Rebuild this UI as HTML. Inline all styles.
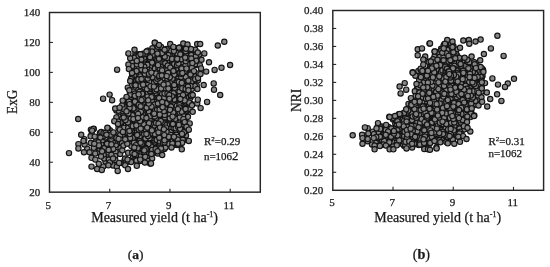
<!DOCTYPE html>
<html><head><meta charset="utf-8"><title>Figure</title>
<style>
html,body{margin:0;padding:0;background:#fff;}
svg{display:block;font-family:"Liberation Serif",serif;fill:#1a1a1a;}
text{stroke:#1a1a1a;stroke-width:0.25px;}
.tk{font-size:11px;}
.ax{font-size:14px;}
.pts circle{fill:#868686;stroke:#141414;stroke-width:1.15;}
</style></head><body>
<svg width="550" height="267" viewBox="0 0 550 267">
<rect width="550" height="267" fill="#fff"/>
<rect x="49.5" y="12.5" width="210.8" height="179.65" fill="none" stroke="#262626" stroke-width="1.45"/><line x1="49.5" x2="52.9" y1="42.44" y2="42.44" stroke="#262626" stroke-width="1.1"/><line x1="49.5" x2="52.9" y1="72.38" y2="72.38" stroke="#262626" stroke-width="1.1"/><line x1="49.5" x2="52.9" y1="102.33" y2="102.33" stroke="#262626" stroke-width="1.1"/><line x1="49.5" x2="52.9" y1="132.27" y2="132.27" stroke="#262626" stroke-width="1.1"/><line x1="49.5" x2="52.9" y1="162.21" y2="162.21" stroke="#262626" stroke-width="1.1"/><line x1="109.73" x2="109.73" y1="192.15" y2="188.75" stroke="#262626" stroke-width="1.1"/><line x1="169.96" x2="169.96" y1="192.15" y2="188.75" stroke="#262626" stroke-width="1.1"/><line x1="230.19" x2="230.19" y1="192.15" y2="188.75" stroke="#262626" stroke-width="1.1"/><text x="40.3" y="15.8" text-anchor="end" class="tk">140</text><text x="40.3" y="45.7" text-anchor="end" class="tk">120</text><text x="40.3" y="75.7" text-anchor="end" class="tk">100</text><text x="40.3" y="105.6" text-anchor="end" class="tk">80</text><text x="40.3" y="135.6" text-anchor="end" class="tk">60</text><text x="40.3" y="165.5" text-anchor="end" class="tk">40</text><text x="40.3" y="195.5" text-anchor="end" class="tk">20</text><text x="48.2" y="208.5" text-anchor="middle" class="tk">5</text><text x="108.4" y="208.5" text-anchor="middle" class="tk">7</text><text x="168.7" y="208.5" text-anchor="middle" class="tk">9</text><text x="228.9" y="208.5" text-anchor="middle" class="tk">11</text>
<g class="pts"><circle cx="165.5" cy="80.5" r="2.65"/><circle cx="142.2" cy="154.4" r="2.65"/><circle cx="170.7" cy="58.3" r="2.65"/><circle cx="172.5" cy="58.0" r="2.65"/><circle cx="190.3" cy="82.4" r="2.65"/><circle cx="143.4" cy="101.2" r="2.65"/><circle cx="166.8" cy="66.4" r="2.65"/><circle cx="141.6" cy="89.2" r="2.65"/><circle cx="164.6" cy="82.8" r="2.65"/><circle cx="175.0" cy="118.2" r="2.65"/><circle cx="152.1" cy="82.1" r="2.65"/><circle cx="137.4" cy="80.6" r="2.65"/><circle cx="195.7" cy="64.9" r="2.65"/><circle cx="142.4" cy="71.2" r="2.65"/><circle cx="175.6" cy="56.0" r="2.65"/><circle cx="146.9" cy="124.5" r="2.65"/><circle cx="173.1" cy="133.3" r="2.65"/><circle cx="172.6" cy="54.3" r="2.65"/><circle cx="147.7" cy="143.4" r="2.65"/><circle cx="170.0" cy="130.2" r="2.65"/><circle cx="182.8" cy="127.0" r="2.65"/><circle cx="186.0" cy="118.6" r="2.65"/><circle cx="166.6" cy="127.5" r="2.65"/><circle cx="167.9" cy="134.6" r="2.65"/><circle cx="168.7" cy="112.1" r="2.65"/><circle cx="172.0" cy="53.8" r="2.65"/><circle cx="174.3" cy="73.6" r="2.65"/><circle cx="162.2" cy="90.3" r="2.65"/><circle cx="154.1" cy="95.1" r="2.65"/><circle cx="169.5" cy="135.8" r="2.65"/><circle cx="186.0" cy="135.5" r="2.65"/><circle cx="154.9" cy="53.1" r="2.65"/><circle cx="159.4" cy="133.6" r="2.65"/><circle cx="133.5" cy="106.8" r="2.65"/><circle cx="189.3" cy="65.9" r="2.65"/><circle cx="134.3" cy="117.6" r="2.65"/><circle cx="183.6" cy="54.2" r="2.65"/><circle cx="135.9" cy="101.1" r="2.65"/><circle cx="127.4" cy="109.7" r="2.65"/><circle cx="170.9" cy="76.1" r="2.65"/><circle cx="182.7" cy="74.6" r="2.65"/><circle cx="145.3" cy="141.0" r="2.65"/><circle cx="121.2" cy="162.9" r="2.65"/><circle cx="181.6" cy="131.2" r="2.65"/><circle cx="159.8" cy="117.4" r="2.65"/><circle cx="99.9" cy="132.9" r="2.65"/><circle cx="139.9" cy="154.4" r="2.65"/><circle cx="173.6" cy="134.2" r="2.65"/><circle cx="155.6" cy="65.8" r="2.65"/><circle cx="161.0" cy="141.8" r="2.65"/><circle cx="125.7" cy="118.3" r="2.65"/><circle cx="161.7" cy="61.9" r="2.65"/><circle cx="149.0" cy="129.5" r="2.65"/><circle cx="146.6" cy="151.0" r="2.65"/><circle cx="136.8" cy="138.1" r="2.65"/><circle cx="146.1" cy="111.8" r="2.65"/><circle cx="100.9" cy="154.3" r="2.65"/><circle cx="181.0" cy="128.4" r="2.65"/><circle cx="169.8" cy="95.0" r="2.65"/><circle cx="186.5" cy="94.7" r="2.65"/><circle cx="179.2" cy="128.3" r="2.65"/><circle cx="124.6" cy="132.1" r="2.65"/><circle cx="151.5" cy="101.5" r="2.65"/><circle cx="159.4" cy="90.9" r="2.65"/><circle cx="135.2" cy="150.8" r="2.65"/><circle cx="129.8" cy="109.7" r="2.65"/><circle cx="143.2" cy="95.1" r="2.65"/><circle cx="166.1" cy="101.1" r="2.65"/><circle cx="182.2" cy="104.3" r="2.65"/><circle cx="155.5" cy="93.1" r="2.65"/><circle cx="188.6" cy="74.6" r="2.65"/><circle cx="143.4" cy="114.6" r="2.65"/><circle cx="189.1" cy="73.1" r="2.65"/><circle cx="165.2" cy="68.9" r="2.65"/><circle cx="176.7" cy="114.1" r="2.65"/><circle cx="183.7" cy="83.6" r="2.65"/><circle cx="173.1" cy="91.8" r="2.65"/><circle cx="103.9" cy="151.6" r="2.65"/><circle cx="134.5" cy="115.1" r="2.65"/><circle cx="194.6" cy="58.0" r="2.65"/><circle cx="188.5" cy="109.1" r="2.65"/><circle cx="167.9" cy="74.1" r="2.65"/><circle cx="144.7" cy="102.5" r="2.65"/><circle cx="130.1" cy="114.4" r="2.65"/><circle cx="155.1" cy="130.8" r="2.65"/><circle cx="145.2" cy="130.8" r="2.65"/><circle cx="187.9" cy="55.1" r="2.65"/><circle cx="147.6" cy="74.0" r="2.65"/><circle cx="132.3" cy="59.8" r="2.65"/><circle cx="186.1" cy="130.3" r="2.65"/><circle cx="154.2" cy="138.8" r="2.65"/><circle cx="156.0" cy="55.7" r="2.65"/><circle cx="189.5" cy="80.4" r="2.65"/><circle cx="195.6" cy="64.2" r="2.65"/><circle cx="191.4" cy="69.7" r="2.65"/><circle cx="162.3" cy="123.0" r="2.65"/><circle cx="187.4" cy="89.0" r="2.65"/><circle cx="160.2" cy="91.9" r="2.65"/><circle cx="133.9" cy="58.6" r="2.65"/><circle cx="193.0" cy="80.4" r="2.65"/><circle cx="155.5" cy="93.3" r="2.65"/><circle cx="137.3" cy="122.9" r="2.65"/><circle cx="142.6" cy="88.8" r="2.65"/><circle cx="186.4" cy="59.7" r="2.65"/><circle cx="104.7" cy="140.4" r="2.65"/><circle cx="142.2" cy="82.3" r="2.65"/><circle cx="158.3" cy="79.9" r="2.65"/><circle cx="117.4" cy="142.6" r="2.65"/><circle cx="118.5" cy="116.7" r="2.65"/><circle cx="160.4" cy="124.7" r="2.65"/><circle cx="124.8" cy="105.5" r="2.65"/><circle cx="176.2" cy="74.0" r="2.65"/><circle cx="115.8" cy="145.2" r="2.65"/><circle cx="172.6" cy="64.2" r="2.65"/><circle cx="118.5" cy="128.1" r="2.65"/><circle cx="156.4" cy="106.9" r="2.65"/><circle cx="98.5" cy="151.8" r="2.65"/><circle cx="170.2" cy="85.3" r="2.65"/><circle cx="159.1" cy="116.6" r="2.65"/><circle cx="157.6" cy="87.1" r="2.65"/><circle cx="164.4" cy="98.6" r="2.65"/><circle cx="171.9" cy="84.7" r="2.65"/><circle cx="120.2" cy="130.0" r="2.65"/><circle cx="136.2" cy="136.6" r="2.65"/><circle cx="110.9" cy="151.2" r="2.65"/><circle cx="167.7" cy="112.5" r="2.65"/><circle cx="171.7" cy="54.3" r="2.65"/><circle cx="115.9" cy="140.5" r="2.65"/><circle cx="154.8" cy="130.3" r="2.65"/><circle cx="147.1" cy="93.1" r="2.65"/><circle cx="123.2" cy="102.4" r="2.65"/><circle cx="159.9" cy="143.3" r="2.65"/><circle cx="190.8" cy="49.5" r="2.65"/><circle cx="198.7" cy="73.4" r="2.65"/><circle cx="186.9" cy="67.0" r="2.65"/><circle cx="137.9" cy="109.5" r="2.65"/><circle cx="152.4" cy="108.9" r="2.65"/><circle cx="168.1" cy="138.7" r="2.65"/><circle cx="120.1" cy="154.0" r="2.65"/><circle cx="142.4" cy="123.4" r="2.65"/><circle cx="175.4" cy="109.7" r="2.65"/><circle cx="142.1" cy="131.2" r="2.65"/><circle cx="177.2" cy="103.1" r="2.65"/><circle cx="150.9" cy="92.3" r="2.65"/><circle cx="145.8" cy="102.0" r="2.65"/><circle cx="138.9" cy="116.3" r="2.65"/><circle cx="105.5" cy="161.6" r="2.65"/><circle cx="136.0" cy="101.3" r="2.65"/><circle cx="170.8" cy="85.0" r="2.65"/><circle cx="158.7" cy="100.6" r="2.65"/><circle cx="180.3" cy="144.7" r="2.65"/><circle cx="190.7" cy="71.0" r="2.65"/><circle cx="177.6" cy="86.9" r="2.65"/><circle cx="178.8" cy="74.8" r="2.65"/><circle cx="109.9" cy="141.4" r="2.65"/><circle cx="170.3" cy="133.0" r="2.65"/><circle cx="111.2" cy="153.9" r="2.65"/><circle cx="134.7" cy="127.8" r="2.65"/><circle cx="163.2" cy="58.5" r="2.65"/><circle cx="151.6" cy="67.9" r="2.65"/><circle cx="135.8" cy="108.6" r="2.65"/><circle cx="135.7" cy="80.9" r="2.65"/><circle cx="180.7" cy="67.0" r="2.65"/><circle cx="139.6" cy="139.9" r="2.65"/><circle cx="87.2" cy="148.9" r="2.65"/><circle cx="183.7" cy="103.2" r="2.65"/><circle cx="168.4" cy="64.7" r="2.65"/><circle cx="140.4" cy="126.2" r="2.65"/><circle cx="158.2" cy="127.1" r="2.65"/><circle cx="149.4" cy="142.3" r="2.65"/><circle cx="153.1" cy="129.6" r="2.65"/><circle cx="146.2" cy="92.7" r="2.65"/><circle cx="135.2" cy="119.7" r="2.65"/><circle cx="104.2" cy="158.4" r="2.65"/><circle cx="179.7" cy="92.9" r="2.65"/><circle cx="129.2" cy="143.1" r="2.65"/><circle cx="124.5" cy="110.5" r="2.65"/><circle cx="137.1" cy="74.6" r="2.65"/><circle cx="184.0" cy="114.6" r="2.65"/><circle cx="139.0" cy="70.5" r="2.65"/><circle cx="124.9" cy="133.4" r="2.65"/><circle cx="128.3" cy="102.4" r="2.65"/><circle cx="145.5" cy="149.0" r="2.65"/><circle cx="144.1" cy="59.3" r="2.65"/><circle cx="191.7" cy="88.0" r="2.65"/><circle cx="155.1" cy="69.2" r="2.65"/><circle cx="124.8" cy="121.2" r="2.65"/><circle cx="116.4" cy="110.4" r="2.65"/><circle cx="139.8" cy="140.7" r="2.65"/><circle cx="178.1" cy="78.7" r="2.65"/><circle cx="154.2" cy="142.8" r="2.65"/><circle cx="101.4" cy="144.2" r="2.65"/><circle cx="122.9" cy="135.1" r="2.65"/><circle cx="128.1" cy="123.0" r="2.65"/><circle cx="159.7" cy="64.9" r="2.65"/><circle cx="176.4" cy="132.9" r="2.65"/><circle cx="139.2" cy="94.3" r="2.65"/><circle cx="139.6" cy="134.2" r="2.65"/><circle cx="188.3" cy="97.3" r="2.65"/><circle cx="177.8" cy="131.4" r="2.65"/><circle cx="140.0" cy="136.0" r="2.65"/><circle cx="165.0" cy="120.9" r="2.65"/><circle cx="183.9" cy="140.1" r="2.65"/><circle cx="179.8" cy="145.1" r="2.65"/><circle cx="171.6" cy="129.9" r="2.65"/><circle cx="120.9" cy="124.2" r="2.65"/><circle cx="139.0" cy="146.3" r="2.65"/><circle cx="160.8" cy="66.3" r="2.65"/><circle cx="149.0" cy="120.7" r="2.65"/><circle cx="184.9" cy="50.2" r="2.65"/><circle cx="191.6" cy="60.7" r="2.65"/><circle cx="135.1" cy="110.1" r="2.65"/><circle cx="188.7" cy="63.6" r="2.65"/><circle cx="189.0" cy="109.1" r="2.65"/><circle cx="141.5" cy="61.0" r="2.65"/><circle cx="174.1" cy="97.0" r="2.65"/><circle cx="165.2" cy="106.4" r="2.65"/><circle cx="154.5" cy="144.5" r="2.65"/><circle cx="147.0" cy="120.4" r="2.65"/><circle cx="127.6" cy="134.6" r="2.65"/><circle cx="192.1" cy="88.8" r="2.65"/><circle cx="197.4" cy="57.1" r="2.65"/><circle cx="190.3" cy="97.9" r="2.65"/><circle cx="109.9" cy="130.2" r="2.65"/><circle cx="183.0" cy="77.8" r="2.65"/><circle cx="113.1" cy="165.4" r="2.65"/><circle cx="166.8" cy="119.0" r="2.65"/><circle cx="168.6" cy="51.8" r="2.65"/><circle cx="177.0" cy="145.1" r="2.65"/><circle cx="102.7" cy="140.1" r="2.65"/><circle cx="177.4" cy="58.9" r="2.65"/><circle cx="84.6" cy="144.5" r="2.65"/><circle cx="152.5" cy="83.8" r="2.65"/><circle cx="173.2" cy="69.5" r="2.65"/><circle cx="178.3" cy="69.7" r="2.65"/><circle cx="179.7" cy="136.2" r="2.65"/><circle cx="159.3" cy="115.5" r="2.65"/><circle cx="151.2" cy="60.0" r="2.65"/><circle cx="183.3" cy="79.2" r="2.65"/><circle cx="164.8" cy="86.6" r="2.65"/><circle cx="153.3" cy="120.4" r="2.65"/><circle cx="162.0" cy="109.3" r="2.65"/><circle cx="137.5" cy="92.2" r="2.65"/><circle cx="186.4" cy="112.8" r="2.65"/><circle cx="182.5" cy="61.8" r="2.65"/><circle cx="182.1" cy="105.7" r="2.65"/><circle cx="133.3" cy="151.5" r="2.65"/><circle cx="90.8" cy="143.0" r="2.65"/><circle cx="169.9" cy="56.1" r="2.65"/><circle cx="146.6" cy="106.2" r="2.65"/><circle cx="161.6" cy="60.6" r="2.65"/><circle cx="124.7" cy="107.4" r="2.65"/><circle cx="144.1" cy="66.2" r="2.65"/><circle cx="154.0" cy="123.7" r="2.65"/><circle cx="139.6" cy="143.1" r="2.65"/><circle cx="180.3" cy="98.8" r="2.65"/><circle cx="124.2" cy="115.5" r="2.65"/><circle cx="151.7" cy="130.0" r="2.65"/><circle cx="154.5" cy="71.5" r="2.65"/><circle cx="162.1" cy="94.1" r="2.65"/><circle cx="140.7" cy="125.4" r="2.65"/><circle cx="139.2" cy="74.5" r="2.65"/><circle cx="183.0" cy="63.3" r="2.65"/><circle cx="149.4" cy="105.7" r="2.65"/><circle cx="139.3" cy="125.9" r="2.65"/><circle cx="135.6" cy="89.6" r="2.65"/><circle cx="176.3" cy="60.6" r="2.65"/><circle cx="142.8" cy="93.0" r="2.65"/><circle cx="187.6" cy="81.5" r="2.65"/><circle cx="140.8" cy="148.8" r="2.65"/><circle cx="170.4" cy="126.7" r="2.65"/><circle cx="130.6" cy="123.8" r="2.65"/><circle cx="163.0" cy="70.4" r="2.65"/><circle cx="136.4" cy="133.1" r="2.65"/><circle cx="139.3" cy="59.6" r="2.65"/><circle cx="178.5" cy="73.3" r="2.65"/><circle cx="190.1" cy="50.3" r="2.65"/><circle cx="180.3" cy="84.9" r="2.65"/><circle cx="185.4" cy="115.7" r="2.65"/><circle cx="133.2" cy="156.9" r="2.65"/><circle cx="120.9" cy="108.5" r="2.65"/><circle cx="183.2" cy="67.0" r="2.65"/><circle cx="171.9" cy="49.7" r="2.65"/><circle cx="122.0" cy="143.1" r="2.65"/><circle cx="130.0" cy="94.8" r="2.65"/><circle cx="170.5" cy="51.1" r="2.65"/><circle cx="136.2" cy="71.2" r="2.65"/><circle cx="127.3" cy="128.2" r="2.65"/><circle cx="126.1" cy="131.4" r="2.65"/><circle cx="184.2" cy="74.3" r="2.65"/><circle cx="136.5" cy="62.4" r="2.65"/><circle cx="143.2" cy="142.1" r="2.65"/><circle cx="167.4" cy="103.6" r="2.65"/><circle cx="148.6" cy="51.1" r="2.65"/><circle cx="176.4" cy="52.6" r="2.65"/><circle cx="183.7" cy="89.3" r="2.65"/><circle cx="135.1" cy="98.3" r="2.65"/><circle cx="153.5" cy="104.5" r="2.65"/><circle cx="147.6" cy="84.1" r="2.65"/><circle cx="99.8" cy="137.1" r="2.65"/><circle cx="174.1" cy="138.1" r="2.65"/><circle cx="163.1" cy="100.6" r="2.65"/><circle cx="137.5" cy="97.9" r="2.65"/><circle cx="145.2" cy="85.7" r="2.65"/><circle cx="145.3" cy="97.8" r="2.65"/><circle cx="133.5" cy="97.5" r="2.65"/><circle cx="153.5" cy="72.1" r="2.65"/><circle cx="148.7" cy="62.0" r="2.65"/><circle cx="138.2" cy="69.7" r="2.65"/><circle cx="154.1" cy="113.2" r="2.65"/><circle cx="170.0" cy="124.1" r="2.65"/><circle cx="180.7" cy="101.9" r="2.65"/><circle cx="163.0" cy="104.5" r="2.65"/><circle cx="121.7" cy="119.1" r="2.65"/><circle cx="175.1" cy="80.8" r="2.65"/><circle cx="182.8" cy="134.0" r="2.65"/><circle cx="173.7" cy="128.2" r="2.65"/><circle cx="150.0" cy="90.8" r="2.65"/><circle cx="201.5" cy="59.7" r="2.65"/><circle cx="131.4" cy="121.8" r="2.65"/><circle cx="187.3" cy="107.4" r="2.65"/><circle cx="159.9" cy="78.5" r="2.65"/><circle cx="186.6" cy="78.1" r="2.65"/><circle cx="189.5" cy="86.6" r="2.65"/><circle cx="149.6" cy="126.4" r="2.65"/><circle cx="118.7" cy="134.1" r="2.65"/><circle cx="174.2" cy="64.1" r="2.65"/><circle cx="177.0" cy="65.2" r="2.65"/><circle cx="135.4" cy="141.9" r="2.65"/><circle cx="148.0" cy="140.2" r="2.65"/><circle cx="164.4" cy="108.3" r="2.65"/><circle cx="172.6" cy="122.0" r="2.65"/><circle cx="134.1" cy="140.7" r="2.65"/><circle cx="149.5" cy="51.8" r="2.65"/><circle cx="129.1" cy="119.5" r="2.65"/><circle cx="165.4" cy="119.4" r="2.65"/><circle cx="155.9" cy="118.3" r="2.65"/><circle cx="163.9" cy="78.2" r="2.65"/><circle cx="167.6" cy="66.3" r="2.65"/><circle cx="131.9" cy="85.2" r="2.65"/><circle cx="133.6" cy="61.8" r="2.65"/><circle cx="174.7" cy="80.8" r="2.65"/><circle cx="168.7" cy="113.9" r="2.65"/><circle cx="154.8" cy="68.5" r="2.65"/><circle cx="140.8" cy="103.7" r="2.65"/><circle cx="150.0" cy="66.7" r="2.65"/><circle cx="179.2" cy="118.4" r="2.65"/><circle cx="152.1" cy="89.0" r="2.65"/><circle cx="156.3" cy="152.1" r="2.65"/><circle cx="182.4" cy="121.7" r="2.65"/><circle cx="179.7" cy="73.2" r="2.65"/><circle cx="105.4" cy="137.4" r="2.65"/><circle cx="129.0" cy="97.6" r="2.65"/><circle cx="147.2" cy="156.3" r="2.65"/><circle cx="131.4" cy="104.5" r="2.65"/><circle cx="132.2" cy="135.9" r="2.65"/><circle cx="156.8" cy="104.0" r="2.65"/><circle cx="154.0" cy="59.7" r="2.65"/><circle cx="192.4" cy="95.2" r="2.65"/><circle cx="138.8" cy="114.2" r="2.65"/><circle cx="162.2" cy="62.1" r="2.65"/><circle cx="103.2" cy="136.2" r="2.65"/><circle cx="170.3" cy="110.7" r="2.65"/><circle cx="140.0" cy="160.9" r="2.65"/><circle cx="135.4" cy="54.1" r="2.65"/><circle cx="155.6" cy="62.8" r="2.65"/><circle cx="149.9" cy="70.8" r="2.65"/><circle cx="167.1" cy="124.9" r="2.65"/><circle cx="163.9" cy="84.8" r="2.65"/><circle cx="157.7" cy="97.8" r="2.65"/><circle cx="165.4" cy="86.4" r="2.65"/><circle cx="182.2" cy="113.0" r="2.65"/><circle cx="134.6" cy="84.5" r="2.65"/><circle cx="155.9" cy="74.8" r="2.65"/><circle cx="185.8" cy="92.8" r="2.65"/><circle cx="144.6" cy="153.3" r="2.65"/><circle cx="164.1" cy="130.9" r="2.65"/><circle cx="149.5" cy="70.2" r="2.65"/><circle cx="97.5" cy="138.7" r="2.65"/><circle cx="165.4" cy="60.8" r="2.65"/><circle cx="117.9" cy="123.1" r="2.65"/><circle cx="192.9" cy="77.9" r="2.65"/><circle cx="142.8" cy="108.5" r="2.65"/><circle cx="160.5" cy="139.4" r="2.65"/><circle cx="123.6" cy="114.5" r="2.65"/><circle cx="182.0" cy="55.7" r="2.65"/><circle cx="153.4" cy="135.8" r="2.65"/><circle cx="160.7" cy="86.3" r="2.65"/><circle cx="136.6" cy="152.8" r="2.65"/><circle cx="173.7" cy="102.8" r="2.65"/><circle cx="138.5" cy="89.7" r="2.65"/><circle cx="157.3" cy="59.8" r="2.65"/><circle cx="180.7" cy="53.2" r="2.65"/><circle cx="159.7" cy="56.1" r="2.65"/><circle cx="182.3" cy="106.3" r="2.65"/><circle cx="148.1" cy="83.9" r="2.65"/><circle cx="140.4" cy="76.4" r="2.65"/><circle cx="148.9" cy="153.0" r="2.65"/><circle cx="134.3" cy="70.7" r="2.65"/><circle cx="144.5" cy="61.9" r="2.65"/><circle cx="147.5" cy="96.6" r="2.65"/><circle cx="124.6" cy="160.2" r="2.65"/><circle cx="139.9" cy="156.5" r="2.65"/><circle cx="150.5" cy="144.7" r="2.65"/><circle cx="168.3" cy="55.0" r="2.65"/><circle cx="112.7" cy="142.0" r="2.65"/><circle cx="166.4" cy="118.1" r="2.65"/><circle cx="158.5" cy="62.5" r="2.65"/><circle cx="159.3" cy="128.1" r="2.65"/><circle cx="105.9" cy="147.0" r="2.65"/><circle cx="143.3" cy="89.8" r="2.65"/><circle cx="140.5" cy="117.5" r="2.65"/><circle cx="189.0" cy="56.5" r="2.65"/><circle cx="136.8" cy="111.8" r="2.65"/><circle cx="184.7" cy="117.0" r="2.65"/><circle cx="111.3" cy="138.9" r="2.65"/><circle cx="149.8" cy="129.3" r="2.65"/><circle cx="128.1" cy="152.8" r="2.65"/><circle cx="144.2" cy="134.2" r="2.65"/><circle cx="181.5" cy="59.2" r="2.65"/><circle cx="173.0" cy="124.1" r="2.65"/><circle cx="189.7" cy="83.1" r="2.65"/><circle cx="176.0" cy="83.1" r="2.65"/><circle cx="158.5" cy="68.4" r="2.65"/><circle cx="115.5" cy="151.7" r="2.65"/><circle cx="145.5" cy="139.3" r="2.65"/><circle cx="154.4" cy="110.5" r="2.65"/><circle cx="139.8" cy="98.8" r="2.65"/><circle cx="131.6" cy="100.2" r="2.65"/><circle cx="159.8" cy="68.9" r="2.65"/><circle cx="139.0" cy="54.2" r="2.65"/><circle cx="197.8" cy="55.7" r="2.65"/><circle cx="160.5" cy="83.9" r="2.65"/><circle cx="159.3" cy="114.6" r="2.65"/><circle cx="174.7" cy="124.8" r="2.65"/><circle cx="150.9" cy="80.9" r="2.65"/><circle cx="162.9" cy="56.8" r="2.65"/><circle cx="133.7" cy="101.1" r="2.65"/><circle cx="163.3" cy="134.3" r="2.65"/><circle cx="190.7" cy="96.0" r="2.65"/><circle cx="146.2" cy="55.5" r="2.65"/><circle cx="152.6" cy="57.5" r="2.65"/><circle cx="161.9" cy="130.9" r="2.65"/><circle cx="113.2" cy="148.9" r="2.65"/><circle cx="137.0" cy="129.8" r="2.65"/><circle cx="196.7" cy="85.6" r="2.65"/><circle cx="122.9" cy="111.2" r="2.65"/><circle cx="131.4" cy="146.1" r="2.65"/><circle cx="168.6" cy="83.8" r="2.65"/><circle cx="127.2" cy="132.4" r="2.65"/><circle cx="107.1" cy="143.8" r="2.65"/><circle cx="164.1" cy="97.8" r="2.65"/><circle cx="149.6" cy="111.8" r="2.65"/><circle cx="154.4" cy="146.5" r="2.65"/><circle cx="120.2" cy="135.1" r="2.65"/><circle cx="152.1" cy="158.4" r="2.65"/><circle cx="188.6" cy="48.4" r="2.65"/><circle cx="166.3" cy="141.1" r="2.65"/><circle cx="133.1" cy="91.6" r="2.65"/><circle cx="169.5" cy="117.7" r="2.65"/><circle cx="150.7" cy="107.1" r="2.65"/><circle cx="142.8" cy="88.4" r="2.65"/><circle cx="194.9" cy="54.0" r="2.65"/><circle cx="172.7" cy="78.8" r="2.65"/><circle cx="157.5" cy="82.2" r="2.65"/><circle cx="121.9" cy="128.1" r="2.65"/><circle cx="128.8" cy="123.1" r="2.65"/><circle cx="148.0" cy="50.7" r="2.65"/><circle cx="111.8" cy="136.3" r="2.65"/><circle cx="134.0" cy="142.7" r="2.65"/><circle cx="172.4" cy="78.8" r="2.65"/><circle cx="180.1" cy="119.6" r="2.65"/><circle cx="151.1" cy="106.6" r="2.65"/><circle cx="142.7" cy="149.2" r="2.65"/><circle cx="152.3" cy="78.9" r="2.65"/><circle cx="179.2" cy="94.9" r="2.65"/><circle cx="150.4" cy="53.3" r="2.65"/><circle cx="158.0" cy="111.7" r="2.65"/><circle cx="139.7" cy="85.5" r="2.65"/><circle cx="187.9" cy="116.8" r="2.65"/><circle cx="153.6" cy="83.0" r="2.65"/><circle cx="100.4" cy="137.6" r="2.65"/><circle cx="135.0" cy="155.7" r="2.65"/><circle cx="169.1" cy="108.7" r="2.65"/><circle cx="108.9" cy="159.3" r="2.65"/><circle cx="154.4" cy="125.4" r="2.65"/><circle cx="149.5" cy="138.2" r="2.65"/><circle cx="126.3" cy="117.5" r="2.65"/><circle cx="145.7" cy="64.3" r="2.65"/><circle cx="115.2" cy="156.1" r="2.65"/><circle cx="174.6" cy="144.7" r="2.65"/><circle cx="178.2" cy="52.2" r="2.65"/><circle cx="155.2" cy="147.9" r="2.65"/><circle cx="151.1" cy="146.5" r="2.65"/><circle cx="140.9" cy="83.9" r="2.65"/><circle cx="158.0" cy="129.3" r="2.65"/><circle cx="182.6" cy="71.6" r="2.65"/><circle cx="164.8" cy="117.5" r="2.65"/><circle cx="144.1" cy="148.7" r="2.65"/><circle cx="180.7" cy="88.1" r="2.65"/><circle cx="120.5" cy="122.5" r="2.65"/><circle cx="164.7" cy="73.1" r="2.65"/><circle cx="194.9" cy="86.2" r="2.65"/><circle cx="137.9" cy="79.2" r="2.65"/><circle cx="151.2" cy="153.0" r="2.65"/><circle cx="152.6" cy="77.2" r="2.65"/><circle cx="116.5" cy="138.1" r="2.65"/><circle cx="160.3" cy="106.4" r="2.65"/><circle cx="116.4" cy="117.4" r="2.65"/><circle cx="174.6" cy="90.0" r="2.65"/><circle cx="175.8" cy="130.1" r="2.65"/><circle cx="156.8" cy="139.9" r="2.65"/><circle cx="158.4" cy="151.4" r="2.65"/><circle cx="185.4" cy="65.7" r="2.65"/><circle cx="133.4" cy="108.4" r="2.65"/><circle cx="171.5" cy="71.5" r="2.65"/><circle cx="160.0" cy="141.5" r="2.65"/><circle cx="146.4" cy="148.9" r="2.65"/><circle cx="132.0" cy="102.5" r="2.65"/><circle cx="131.3" cy="80.4" r="2.65"/><circle cx="155.9" cy="49.7" r="2.65"/><circle cx="192.4" cy="61.8" r="2.65"/><circle cx="132.8" cy="72.7" r="2.65"/><circle cx="149.1" cy="81.5" r="2.65"/><circle cx="167.4" cy="78.6" r="2.65"/><circle cx="147.1" cy="67.6" r="2.65"/><circle cx="176.9" cy="89.4" r="2.65"/><circle cx="198.0" cy="80.3" r="2.65"/><circle cx="141.3" cy="144.8" r="2.65"/><circle cx="132.3" cy="152.8" r="2.65"/><circle cx="128.1" cy="118.1" r="2.65"/><circle cx="181.1" cy="77.0" r="2.65"/><circle cx="191.4" cy="81.7" r="2.65"/><circle cx="185.2" cy="70.8" r="2.65"/><circle cx="145.5" cy="138.4" r="2.65"/><circle cx="175.1" cy="99.8" r="2.65"/><circle cx="152.6" cy="153.0" r="2.65"/><circle cx="147.4" cy="64.8" r="2.65"/><circle cx="153.4" cy="117.1" r="2.65"/><circle cx="170.0" cy="114.3" r="2.65"/><circle cx="151.0" cy="60.3" r="2.65"/><circle cx="191.8" cy="67.9" r="2.65"/><circle cx="125.1" cy="158.5" r="2.65"/><circle cx="155.2" cy="90.8" r="2.65"/><circle cx="170.6" cy="83.4" r="2.65"/><circle cx="186.2" cy="89.6" r="2.65"/><circle cx="173.5" cy="108.3" r="2.65"/><circle cx="120.5" cy="148.0" r="2.65"/><circle cx="156.3" cy="80.9" r="2.65"/><circle cx="143.2" cy="126.9" r="2.65"/><circle cx="156.5" cy="72.6" r="2.65"/><circle cx="139.4" cy="91.9" r="2.65"/><circle cx="124.0" cy="127.9" r="2.65"/><circle cx="151.9" cy="100.4" r="2.65"/><circle cx="175.2" cy="107.6" r="2.65"/><circle cx="139.0" cy="67.5" r="2.65"/><circle cx="159.0" cy="58.8" r="2.65"/><circle cx="185.2" cy="106.7" r="2.65"/><circle cx="144.3" cy="66.8" r="2.65"/><circle cx="177.1" cy="116.0" r="2.65"/><circle cx="149.7" cy="119.6" r="2.65"/><circle cx="178.4" cy="63.6" r="2.65"/><circle cx="145.6" cy="78.9" r="2.65"/><circle cx="169.5" cy="96.4" r="2.65"/><circle cx="183.1" cy="115.9" r="2.65"/><circle cx="176.2" cy="137.2" r="2.65"/><circle cx="176.7" cy="105.9" r="2.65"/><circle cx="139.0" cy="82.8" r="2.65"/><circle cx="178.6" cy="114.0" r="2.65"/><circle cx="144.9" cy="77.3" r="2.65"/><circle cx="168.4" cy="61.8" r="2.65"/><circle cx="156.0" cy="123.1" r="2.65"/><circle cx="130.4" cy="94.6" r="2.65"/><circle cx="96.0" cy="141.2" r="2.65"/><circle cx="180.6" cy="121.7" r="2.65"/><circle cx="165.8" cy="88.5" r="2.65"/><circle cx="141.4" cy="69.4" r="2.65"/><circle cx="139.4" cy="146.6" r="2.65"/><circle cx="167.2" cy="70.0" r="2.65"/><circle cx="175.7" cy="128.3" r="2.65"/><circle cx="169.2" cy="90.2" r="2.65"/><circle cx="122.3" cy="150.3" r="2.65"/><circle cx="129.6" cy="107.9" r="2.65"/><circle cx="179.4" cy="105.2" r="2.65"/><circle cx="164.4" cy="148.9" r="2.65"/><circle cx="159.8" cy="104.4" r="2.65"/><circle cx="141.6" cy="103.9" r="2.65"/><circle cx="147.7" cy="112.9" r="2.65"/><circle cx="165.9" cy="109.5" r="2.65"/><circle cx="165.0" cy="124.9" r="2.65"/><circle cx="165.4" cy="147.5" r="2.65"/><circle cx="91.7" cy="133.9" r="2.65"/><circle cx="161.3" cy="49.8" r="2.65"/><circle cx="160.3" cy="81.6" r="2.65"/><circle cx="101.3" cy="132.0" r="2.65"/><circle cx="174.4" cy="74.6" r="2.65"/><circle cx="191.3" cy="103.9" r="2.65"/><circle cx="140.8" cy="115.0" r="2.65"/><circle cx="135.0" cy="101.7" r="2.65"/><circle cx="178.2" cy="127.0" r="2.65"/><circle cx="103.8" cy="154.4" r="2.65"/><circle cx="163.9" cy="56.9" r="2.65"/><circle cx="134.7" cy="93.7" r="2.65"/><circle cx="159.9" cy="54.1" r="2.65"/><circle cx="154.1" cy="135.0" r="2.65"/><circle cx="139.1" cy="80.6" r="2.65"/><circle cx="143.7" cy="124.1" r="2.65"/><circle cx="136.1" cy="145.1" r="2.65"/><circle cx="152.7" cy="54.9" r="2.65"/><circle cx="181.6" cy="69.4" r="2.65"/><circle cx="169.6" cy="92.1" r="2.65"/><circle cx="104.0" cy="148.3" r="2.65"/><circle cx="157.5" cy="78.8" r="2.65"/><circle cx="103.5" cy="132.9" r="2.65"/><circle cx="180.1" cy="128.8" r="2.65"/><circle cx="194.1" cy="76.0" r="2.65"/><circle cx="138.8" cy="104.8" r="2.65"/><circle cx="169.8" cy="118.5" r="2.65"/><circle cx="161.1" cy="47.1" r="2.65"/><circle cx="173.4" cy="144.3" r="2.65"/><circle cx="132.5" cy="115.3" r="2.65"/><circle cx="157.1" cy="109.9" r="2.65"/><circle cx="159.4" cy="76.3" r="2.65"/><circle cx="128.1" cy="137.7" r="2.65"/><circle cx="123.5" cy="145.5" r="2.65"/><circle cx="182.7" cy="120.0" r="2.65"/><circle cx="118.6" cy="138.9" r="2.65"/><circle cx="118.2" cy="121.7" r="2.65"/><circle cx="116.8" cy="166.6" r="2.65"/><circle cx="191.1" cy="52.3" r="2.65"/><circle cx="103.2" cy="166.6" r="2.65"/><circle cx="153.4" cy="131.2" r="2.65"/><circle cx="176.4" cy="134.8" r="2.65"/><circle cx="171.5" cy="100.7" r="2.65"/><circle cx="185.7" cy="48.6" r="2.65"/><circle cx="168.7" cy="136.9" r="2.65"/><circle cx="175.4" cy="118.8" r="2.65"/><circle cx="185.8" cy="76.9" r="2.65"/><circle cx="147.7" cy="78.6" r="2.65"/><circle cx="191.2" cy="55.1" r="2.65"/><circle cx="140.5" cy="86.1" r="2.65"/><circle cx="144.8" cy="159.6" r="2.65"/><circle cx="130.1" cy="123.7" r="2.65"/><circle cx="185.5" cy="108.0" r="2.65"/><circle cx="141.0" cy="120.6" r="2.65"/><circle cx="166.3" cy="94.2" r="2.65"/><circle cx="130.9" cy="133.8" r="2.65"/><circle cx="136.8" cy="64.3" r="2.65"/><circle cx="119.8" cy="129.7" r="2.65"/><circle cx="122.0" cy="105.4" r="2.65"/><circle cx="108.6" cy="132.8" r="2.65"/><circle cx="110.8" cy="134.7" r="2.65"/><circle cx="139.5" cy="109.2" r="2.65"/><circle cx="177.4" cy="53.4" r="2.65"/><circle cx="149.9" cy="112.3" r="2.65"/><circle cx="163.7" cy="55.1" r="2.65"/><circle cx="122.9" cy="131.9" r="2.65"/><circle cx="167.5" cy="60.4" r="2.65"/><circle cx="142.2" cy="93.9" r="2.65"/><circle cx="130.9" cy="128.6" r="2.65"/><circle cx="150.2" cy="132.0" r="2.65"/><circle cx="181.2" cy="68.9" r="2.65"/><circle cx="128.3" cy="139.5" r="2.65"/><circle cx="142.9" cy="99.0" r="2.65"/><circle cx="134.9" cy="95.8" r="2.65"/><circle cx="186.8" cy="110.3" r="2.65"/><circle cx="145.7" cy="129.6" r="2.65"/><circle cx="138.6" cy="133.1" r="2.65"/><circle cx="159.3" cy="137.7" r="2.65"/><circle cx="99.6" cy="148.7" r="2.65"/><circle cx="115.3" cy="160.0" r="2.65"/><circle cx="93.8" cy="147.8" r="2.65"/><circle cx="147.5" cy="85.0" r="2.65"/><circle cx="183.9" cy="132.2" r="2.65"/><circle cx="128.2" cy="127.8" r="2.65"/><circle cx="150.0" cy="59.0" r="2.65"/><circle cx="191.7" cy="72.9" r="2.65"/><circle cx="152.2" cy="96.2" r="2.65"/><circle cx="124.3" cy="109.4" r="2.65"/><circle cx="186.1" cy="97.8" r="2.65"/><circle cx="138.4" cy="79.4" r="2.65"/><circle cx="159.1" cy="98.0" r="2.65"/><circle cx="159.3" cy="77.4" r="2.65"/><circle cx="162.4" cy="122.1" r="2.65"/><circle cx="132.3" cy="61.2" r="2.65"/><circle cx="137.8" cy="148.2" r="2.65"/><circle cx="167.0" cy="75.8" r="2.65"/><circle cx="173.6" cy="93.3" r="2.65"/><circle cx="172.9" cy="124.0" r="2.65"/><circle cx="182.7" cy="95.3" r="2.65"/><circle cx="154.8" cy="116.4" r="2.65"/><circle cx="148.4" cy="112.9" r="2.65"/><circle cx="160.8" cy="121.1" r="2.65"/><circle cx="165.9" cy="127.6" r="2.65"/><circle cx="144.1" cy="57.6" r="2.65"/><circle cx="134.3" cy="147.5" r="2.65"/><circle cx="164.6" cy="114.9" r="2.65"/><circle cx="154.7" cy="104.5" r="2.65"/><circle cx="132.9" cy="137.8" r="2.65"/><circle cx="148.5" cy="144.1" r="2.65"/><circle cx="181.6" cy="68.5" r="2.65"/><circle cx="164.6" cy="93.6" r="2.65"/><circle cx="148.7" cy="75.2" r="2.65"/><circle cx="179.5" cy="91.8" r="2.65"/><circle cx="171.0" cy="106.7" r="2.65"/><circle cx="174.2" cy="99.5" r="2.65"/><circle cx="194.6" cy="60.0" r="2.65"/><circle cx="190.0" cy="109.0" r="2.65"/><circle cx="178.8" cy="82.0" r="2.65"/><circle cx="166.5" cy="103.4" r="2.65"/><circle cx="166.5" cy="49.1" r="2.65"/><circle cx="155.7" cy="73.6" r="2.65"/><circle cx="162.7" cy="131.8" r="2.65"/><circle cx="108.6" cy="152.7" r="2.65"/><circle cx="167.8" cy="84.0" r="2.65"/><circle cx="134.3" cy="75.1" r="2.65"/><circle cx="143.1" cy="104.4" r="2.65"/><circle cx="165.3" cy="63.2" r="2.65"/><circle cx="182.3" cy="88.4" r="2.65"/><circle cx="175.2" cy="48.0" r="2.65"/><circle cx="150.6" cy="123.9" r="2.65"/><circle cx="147.5" cy="160.8" r="2.65"/><circle cx="134.6" cy="71.6" r="2.65"/><circle cx="170.0" cy="98.5" r="2.65"/><circle cx="181.6" cy="136.4" r="2.65"/><circle cx="128.9" cy="101.5" r="2.65"/><circle cx="189.1" cy="102.6" r="2.65"/><circle cx="95.2" cy="153.6" r="2.65"/><circle cx="186.1" cy="53.4" r="2.65"/><circle cx="108.6" cy="149.9" r="2.65"/><circle cx="141.5" cy="79.0" r="2.65"/><circle cx="127.8" cy="87.6" r="2.65"/><circle cx="144.8" cy="54.3" r="2.65"/><circle cx="184.1" cy="98.1" r="2.65"/><circle cx="130.2" cy="138.1" r="2.65"/><circle cx="182.8" cy="139.7" r="2.65"/><circle cx="162.1" cy="70.4" r="2.65"/><circle cx="141.5" cy="100.2" r="2.65"/><circle cx="142.1" cy="106.1" r="2.65"/><circle cx="186.5" cy="68.6" r="2.65"/><circle cx="131.2" cy="125.0" r="2.65"/><circle cx="171.1" cy="146.5" r="2.65"/><circle cx="190.5" cy="74.5" r="2.65"/><circle cx="152.4" cy="48.3" r="2.65"/><circle cx="185.8" cy="61.2" r="2.65"/><circle cx="178.1" cy="137.1" r="2.65"/><circle cx="98.3" cy="142.3" r="2.65"/><circle cx="167.7" cy="65.5" r="2.65"/><circle cx="195.3" cy="49.8" r="2.65"/><circle cx="152.2" cy="149.9" r="2.65"/><circle cx="150.1" cy="57.3" r="2.65"/><circle cx="156.5" cy="89.2" r="2.65"/><circle cx="158.5" cy="123.7" r="2.65"/><circle cx="136.0" cy="155.0" r="2.65"/><circle cx="127.7" cy="114.1" r="2.65"/><circle cx="188.4" cy="80.7" r="2.65"/><circle cx="185.6" cy="89.0" r="2.65"/><circle cx="158.0" cy="65.2" r="2.65"/><circle cx="194.0" cy="71.1" r="2.65"/><circle cx="168.9" cy="143.8" r="2.65"/><circle cx="145.5" cy="147.8" r="2.65"/><circle cx="179.9" cy="47.5" r="2.65"/><circle cx="152.4" cy="133.4" r="2.65"/><circle cx="119.1" cy="162.9" r="2.65"/><circle cx="157.8" cy="153.4" r="2.65"/><circle cx="182.2" cy="142.7" r="2.65"/><circle cx="190.5" cy="86.0" r="2.65"/><circle cx="108.9" cy="159.5" r="2.65"/><circle cx="154.9" cy="134.1" r="2.65"/><circle cx="174.8" cy="87.8" r="2.65"/><circle cx="199.3" cy="54.5" r="2.65"/><circle cx="128.4" cy="113.5" r="2.65"/><circle cx="149.1" cy="112.1" r="2.65"/><circle cx="163.8" cy="111.2" r="2.65"/><circle cx="173.9" cy="51.1" r="2.65"/><circle cx="172.0" cy="58.9" r="2.65"/><circle cx="159.3" cy="75.9" r="2.65"/><circle cx="169.9" cy="99.8" r="2.65"/><circle cx="151.5" cy="97.2" r="2.65"/><circle cx="146.7" cy="107.7" r="2.65"/><circle cx="172.4" cy="143.6" r="2.65"/><circle cx="180.3" cy="54.3" r="2.65"/><circle cx="199.9" cy="65.4" r="2.65"/><circle cx="162.9" cy="142.9" r="2.65"/><circle cx="137.0" cy="132.4" r="2.65"/><circle cx="192.0" cy="105.3" r="2.65"/><circle cx="144.6" cy="87.5" r="2.65"/><circle cx="167.1" cy="57.9" r="2.65"/><circle cx="131.4" cy="161.2" r="2.65"/><circle cx="188.3" cy="58.4" r="2.65"/><circle cx="138.6" cy="94.3" r="2.65"/><circle cx="162.6" cy="105.5" r="2.65"/><circle cx="181.8" cy="82.9" r="2.65"/><circle cx="164.7" cy="56.8" r="2.65"/><circle cx="155.6" cy="149.0" r="2.65"/><circle cx="169.8" cy="77.3" r="2.65"/><circle cx="130.8" cy="118.8" r="2.65"/><circle cx="179.8" cy="117.3" r="2.65"/><circle cx="161.1" cy="88.4" r="2.65"/><circle cx="179.9" cy="96.3" r="2.65"/><circle cx="177.7" cy="139.5" r="2.65"/><circle cx="138.8" cy="129.6" r="2.65"/><circle cx="170.3" cy="67.7" r="2.65"/><circle cx="195.7" cy="56.5" r="2.65"/><circle cx="196.2" cy="60.7" r="2.65"/><circle cx="149.0" cy="123.2" r="2.65"/><circle cx="142.7" cy="117.9" r="2.65"/><circle cx="132.8" cy="126.2" r="2.65"/><circle cx="159.6" cy="109.7" r="2.65"/><circle cx="147.9" cy="136.0" r="2.65"/><circle cx="167.5" cy="93.6" r="2.65"/><circle cx="166.6" cy="131.7" r="2.65"/><circle cx="152.0" cy="51.6" r="2.65"/><circle cx="99.1" cy="146.0" r="2.65"/><circle cx="159.7" cy="114.7" r="2.65"/><circle cx="149.0" cy="88.8" r="2.65"/><circle cx="111.4" cy="144.4" r="2.65"/><circle cx="144.8" cy="73.8" r="2.65"/><circle cx="161.8" cy="75.5" r="2.65"/><circle cx="183.0" cy="95.1" r="2.65"/><circle cx="137.7" cy="57.4" r="2.65"/><circle cx="191.3" cy="58.5" r="2.65"/><circle cx="151.9" cy="130.4" r="2.65"/><circle cx="98.9" cy="145.4" r="2.65"/><circle cx="160.8" cy="53.4" r="2.65"/><circle cx="183.4" cy="119.2" r="2.65"/><circle cx="109.9" cy="162.4" r="2.65"/><circle cx="141.0" cy="65.2" r="2.65"/><circle cx="195.2" cy="79.2" r="2.65"/><circle cx="145.1" cy="70.5" r="2.65"/><circle cx="149.0" cy="73.8" r="2.65"/><circle cx="151.5" cy="106.7" r="2.65"/><circle cx="147.6" cy="50.9" r="2.65"/><circle cx="173.4" cy="71.0" r="2.65"/><circle cx="171.9" cy="96.3" r="2.65"/><circle cx="179.5" cy="107.5" r="2.65"/><circle cx="141.9" cy="144.1" r="2.65"/><circle cx="136.3" cy="125.4" r="2.65"/><circle cx="158.5" cy="132.4" r="2.65"/><circle cx="135.9" cy="56.2" r="2.65"/><circle cx="164.5" cy="142.4" r="2.65"/><circle cx="178.9" cy="124.9" r="2.65"/><circle cx="176.6" cy="60.1" r="2.65"/><circle cx="144.4" cy="152.3" r="2.65"/><circle cx="127.3" cy="143.7" r="2.65"/><circle cx="160.0" cy="127.6" r="2.65"/><circle cx="111.4" cy="154.9" r="2.65"/><circle cx="134.5" cy="57.8" r="2.65"/><circle cx="181.5" cy="73.9" r="2.65"/><circle cx="146.9" cy="89.1" r="2.65"/><circle cx="151.4" cy="72.6" r="2.65"/><circle cx="173.3" cy="112.7" r="2.65"/><circle cx="118.5" cy="110.7" r="2.65"/><circle cx="163.6" cy="84.6" r="2.65"/><circle cx="172.6" cy="116.7" r="2.65"/><circle cx="129.6" cy="104.1" r="2.65"/><circle cx="188.0" cy="86.6" r="2.65"/><circle cx="141.0" cy="115.9" r="2.65"/><circle cx="101.0" cy="156.4" r="2.65"/><circle cx="135.6" cy="85.3" r="2.65"/><circle cx="185.2" cy="57.6" r="2.65"/><circle cx="191.0" cy="49.1" r="2.65"/><circle cx="163.9" cy="129.3" r="2.65"/><circle cx="184.7" cy="100.4" r="2.65"/><circle cx="179.7" cy="112.6" r="2.65"/><circle cx="181.7" cy="111.7" r="2.65"/><circle cx="146.4" cy="134.0" r="2.65"/><circle cx="143.1" cy="84.7" r="2.65"/><circle cx="162.6" cy="107.2" r="2.65"/><circle cx="131.1" cy="162.0" r="2.65"/><circle cx="149.9" cy="116.2" r="2.65"/><circle cx="140.9" cy="111.8" r="2.65"/><circle cx="168.4" cy="88.6" r="2.65"/><circle cx="169.2" cy="95.0" r="2.65"/><circle cx="133.4" cy="119.1" r="2.65"/><circle cx="169.4" cy="98.8" r="2.65"/><circle cx="98.8" cy="163.8" r="2.65"/><circle cx="136.5" cy="160.6" r="2.65"/><circle cx="150.5" cy="86.4" r="2.65"/><circle cx="130.2" cy="58.3" r="2.65"/><circle cx="191.0" cy="95.5" r="2.65"/><circle cx="132.0" cy="66.2" r="2.65"/><circle cx="180.3" cy="99.0" r="2.65"/><circle cx="126.5" cy="111.3" r="2.65"/><circle cx="138.1" cy="113.9" r="2.65"/><circle cx="177.2" cy="58.9" r="2.65"/><circle cx="140.6" cy="106.4" r="2.65"/><circle cx="137.2" cy="135.0" r="2.65"/><circle cx="145.2" cy="156.8" r="2.65"/><circle cx="127.9" cy="122.4" r="2.65"/><circle cx="162.0" cy="53.1" r="2.65"/><circle cx="157.9" cy="103.5" r="2.65"/><circle cx="153.9" cy="86.6" r="2.65"/><circle cx="125.5" cy="120.1" r="2.65"/><circle cx="153.2" cy="113.7" r="2.65"/><circle cx="126.3" cy="162.3" r="2.65"/><circle cx="125.2" cy="139.3" r="2.65"/><circle cx="177.9" cy="109.1" r="2.65"/><circle cx="162.2" cy="102.0" r="2.65"/><circle cx="168.1" cy="72.8" r="2.65"/><circle cx="145.7" cy="149.0" r="2.65"/><circle cx="131.7" cy="77.5" r="2.65"/><circle cx="157.8" cy="46.7" r="2.65"/><circle cx="182.0" cy="133.9" r="2.65"/><circle cx="113.1" cy="158.5" r="2.65"/><circle cx="148.7" cy="103.6" r="2.65"/><circle cx="164.3" cy="135.1" r="2.65"/><circle cx="166.7" cy="76.1" r="2.65"/><circle cx="140.7" cy="128.6" r="2.65"/><circle cx="142.8" cy="117.4" r="2.65"/><circle cx="138.7" cy="55.8" r="2.65"/><circle cx="84.3" cy="139.1" r="2.65"/><circle cx="157.5" cy="53.6" r="2.65"/><circle cx="146.4" cy="118.0" r="2.65"/><circle cx="147.2" cy="127.7" r="2.65"/><circle cx="129.7" cy="134.1" r="2.65"/><circle cx="152.1" cy="62.6" r="2.65"/><circle cx="105.6" cy="132.8" r="2.65"/><circle cx="174.2" cy="85.0" r="2.65"/><circle cx="192.4" cy="63.1" r="2.65"/><circle cx="129.4" cy="131.0" r="2.65"/><circle cx="154.2" cy="113.7" r="2.65"/><circle cx="102.1" cy="151.3" r="2.65"/><circle cx="174.0" cy="136.8" r="2.65"/><circle cx="140.6" cy="142.7" r="2.65"/><circle cx="140.1" cy="121.1" r="2.65"/><circle cx="142.9" cy="53.7" r="2.65"/><circle cx="182.4" cy="73.1" r="2.65"/><circle cx="113.4" cy="132.4" r="2.65"/><circle cx="164.5" cy="140.3" r="2.65"/><circle cx="141.3" cy="59.5" r="2.65"/><circle cx="198.0" cy="78.0" r="2.65"/><circle cx="136.5" cy="71.1" r="2.65"/><circle cx="127.5" cy="159.5" r="2.65"/><circle cx="185.6" cy="51.3" r="2.65"/><circle cx="144.3" cy="150.4" r="2.65"/><circle cx="138.0" cy="118.0" r="2.65"/><circle cx="161.0" cy="148.5" r="2.65"/><circle cx="170.0" cy="109.8" r="2.65"/><circle cx="148.2" cy="100.3" r="2.65"/><circle cx="117.1" cy="69.7" r="2.65"/><circle cx="128.4" cy="53.4" r="2.65"/><circle cx="134.5" cy="49.7" r="2.65"/><circle cx="155.0" cy="42.7" r="2.65"/><circle cx="146.5" cy="51.5" r="2.65"/><circle cx="140.5" cy="54.3" r="2.65"/><circle cx="128.4" cy="64.6" r="2.65"/><circle cx="128.9" cy="69.0" r="2.65"/><circle cx="132.0" cy="73.0" r="2.65"/><circle cx="136.8" cy="60.9" r="2.65"/><circle cx="131.0" cy="79.0" r="2.65"/><circle cx="154.7" cy="42.7" r="2.65"/><circle cx="159.0" cy="45.0" r="2.65"/><circle cx="170.2" cy="44.0" r="2.65"/><circle cx="173.4" cy="46.9" r="2.65"/><circle cx="183.3" cy="43.5" r="2.65"/><circle cx="187.5" cy="44.6" r="2.65"/><circle cx="197.2" cy="44.0" r="2.65"/><circle cx="200.2" cy="44.0" r="2.65"/><circle cx="217.8" cy="45.5" r="2.65"/><circle cx="224.3" cy="41.8" r="2.65"/><circle cx="164.6" cy="49.7" r="2.65"/><circle cx="179.0" cy="47.8" r="2.65"/><circle cx="186.0" cy="48.7" r="2.65"/><circle cx="197.8" cy="52.5" r="2.65"/><circle cx="204.3" cy="53.4" r="2.65"/><circle cx="209.0" cy="62.2" r="2.65"/><circle cx="230.1" cy="65.0" r="2.65"/><circle cx="221.5" cy="67.8" r="2.65"/><circle cx="214.6" cy="69.9" r="2.65"/><circle cx="206.2" cy="71.6" r="2.65"/><circle cx="201.0" cy="68.4" r="2.65"/><circle cx="200.5" cy="74.0" r="2.65"/><circle cx="213.7" cy="83.4" r="2.65"/><circle cx="214.0" cy="89.7" r="2.65"/><circle cx="220.2" cy="95.0" r="2.65"/><circle cx="203.7" cy="85.0" r="2.65"/><circle cx="197.4" cy="89.0" r="2.65"/><circle cx="192.7" cy="95.0" r="2.65"/><circle cx="207.1" cy="101.9" r="2.65"/><circle cx="197.2" cy="103.4" r="2.65"/><circle cx="197.8" cy="99.7" r="2.65"/><circle cx="200.6" cy="108.1" r="2.65"/><circle cx="192.7" cy="111.8" r="2.65"/><circle cx="185.6" cy="109.0" r="2.65"/><circle cx="189.7" cy="123.4" r="2.65"/><circle cx="184.6" cy="122.1" r="2.65"/><circle cx="186.5" cy="126.8" r="2.65"/><circle cx="188.4" cy="90.3" r="2.65"/><circle cx="78.2" cy="119.0" r="2.65"/><circle cx="103.1" cy="98.7" r="2.65"/><circle cx="109.6" cy="94.6" r="2.65"/><circle cx="112.1" cy="100.2" r="2.65"/><circle cx="130.2" cy="81.0" r="2.65"/><circle cx="129.3" cy="90.3" r="2.65"/><circle cx="126.5" cy="96.9" r="2.65"/><circle cx="122.7" cy="100.6" r="2.65"/><circle cx="115.2" cy="108.5" r="2.65"/><circle cx="119.6" cy="107.7" r="2.65"/><circle cx="123.7" cy="117.5" r="2.65"/><circle cx="114.3" cy="121.2" r="2.65"/><circle cx="118.0" cy="124.0" r="2.65"/><circle cx="107.8" cy="128.1" r="2.65"/><circle cx="93.7" cy="128.7" r="2.65"/><circle cx="90.9" cy="129.6" r="2.65"/><circle cx="69.0" cy="153.1" r="2.65"/><circle cx="81.2" cy="134.7" r="2.65"/><circle cx="83.5" cy="140.9" r="2.65"/><circle cx="78.4" cy="144.1" r="2.65"/><circle cx="78.4" cy="148.4" r="2.65"/><circle cx="84.0" cy="152.2" r="2.65"/><circle cx="90.6" cy="136.2" r="2.65"/><circle cx="93.4" cy="129.1" r="2.65"/><circle cx="92.1" cy="130.6" r="2.65"/><circle cx="94.7" cy="136.6" r="2.65"/><circle cx="94.3" cy="143.7" r="2.65"/><circle cx="89.6" cy="152.2" r="2.65"/><circle cx="91.5" cy="157.8" r="2.65"/><circle cx="95.3" cy="159.6" r="2.65"/><circle cx="91.5" cy="166.6" r="2.65"/><circle cx="97.1" cy="169.0" r="2.65"/><circle cx="101.8" cy="169.9" r="2.65"/><circle cx="108.4" cy="165.3" r="2.65"/><circle cx="107.4" cy="127.8" r="2.65"/><circle cx="106.5" cy="134.7" r="2.65"/><circle cx="117.7" cy="170.9" r="2.65"/><circle cx="125.2" cy="165.3" r="2.65"/><circle cx="128.0" cy="169.0" r="2.65"/><circle cx="136.8" cy="165.8" r="2.65"/><circle cx="140.2" cy="159.6" r="2.65"/><circle cx="144.9" cy="162.5" r="2.65"/><circle cx="150.1" cy="163.4" r="2.65"/><circle cx="134.6" cy="154.0" r="2.65"/><circle cx="151.4" cy="154.0" r="2.65"/><circle cx="188.8" cy="129.7" r="2.65"/><circle cx="188.8" cy="140.9" r="2.65"/><circle cx="181.8" cy="149.3" r="2.65"/><circle cx="162.2" cy="155.0" r="2.65"/><circle cx="151.0" cy="163.4" r="2.65"/><circle cx="171.5" cy="147.5" r="2.65"/><circle cx="178.0" cy="143.7" r="2.65"/><circle cx="157.5" cy="151.2" r="2.65"/></g>
<text transform="translate(16.6,101.8) rotate(-90) scale(0.91,1)" text-anchor="middle" style="font-size:14.6px">ExG</text>
<text x="154.6" y="222.2" text-anchor="middle" class="ax">Measured yield (t ha<tspan dy="-5" font-size="8">-1</tspan><tspan dy="5">)</tspan></text>
<text x="203.9" y="144.7" class="tk">R<tspan dy="-3.6" font-size="7">2</tspan><tspan dy="3.6">=0.29</tspan></text>
<text x="203.9" y="159.9" class="tk">n=106<tspan font-size="13">2</tspan></text>
<text x="135.6" y="258.5" text-anchor="middle" style="font-size:13.5px">(<tspan font-weight="bold">a</tspan>)</text>
<rect x="332.8" y="10.5" width="210.8" height="179.8" fill="none" stroke="#262626" stroke-width="1.45"/><line x1="332.8" x2="336.2" y1="28.48" y2="28.48" stroke="#262626" stroke-width="1.1"/><line x1="332.8" x2="336.2" y1="46.45" y2="46.45" stroke="#262626" stroke-width="1.1"/><line x1="332.8" x2="336.2" y1="64.42" y2="64.42" stroke="#262626" stroke-width="1.1"/><line x1="332.8" x2="336.2" y1="82.40" y2="82.40" stroke="#262626" stroke-width="1.1"/><line x1="332.8" x2="336.2" y1="100.38" y2="100.38" stroke="#262626" stroke-width="1.1"/><line x1="332.8" x2="336.2" y1="118.35" y2="118.35" stroke="#262626" stroke-width="1.1"/><line x1="332.8" x2="336.2" y1="136.32" y2="136.32" stroke="#262626" stroke-width="1.1"/><line x1="332.8" x2="336.2" y1="154.30" y2="154.30" stroke="#262626" stroke-width="1.1"/><line x1="332.8" x2="336.2" y1="172.28" y2="172.28" stroke="#262626" stroke-width="1.1"/><line x1="393.03" x2="393.03" y1="190.25" y2="186.85" stroke="#262626" stroke-width="1.1"/><line x1="453.26" x2="453.26" y1="190.25" y2="186.85" stroke="#262626" stroke-width="1.1"/><line x1="513.49" x2="513.49" y1="190.25" y2="186.85" stroke="#262626" stroke-width="1.1"/><text x="323.3" y="13.8" text-anchor="end" class="tk">0.40</text><text x="323.3" y="31.8" text-anchor="end" class="tk">0.38</text><text x="323.3" y="49.8" text-anchor="end" class="tk">0.36</text><text x="323.3" y="67.7" text-anchor="end" class="tk">0.34</text><text x="323.3" y="85.7" text-anchor="end" class="tk">0.32</text><text x="323.3" y="103.7" text-anchor="end" class="tk">0.30</text><text x="323.3" y="121.6" text-anchor="end" class="tk">0.28</text><text x="323.3" y="139.6" text-anchor="end" class="tk">0.26</text><text x="323.3" y="157.6" text-anchor="end" class="tk">0.24</text><text x="323.3" y="175.6" text-anchor="end" class="tk">0.22</text><text x="323.3" y="193.6" text-anchor="end" class="tk">0.20</text><text x="332.0" y="206.1" text-anchor="middle" class="tk">5</text><text x="392.2" y="206.1" text-anchor="middle" class="tk">7</text><text x="452.5" y="206.1" text-anchor="middle" class="tk">9</text><text x="512.7" y="206.1" text-anchor="middle" class="tk">11</text>
<g class="pts"><circle cx="367.7" cy="141.2" r="2.65"/><circle cx="383.4" cy="129.7" r="2.65"/><circle cx="444.3" cy="66.9" r="2.65"/><circle cx="464.1" cy="59.6" r="2.65"/><circle cx="458.2" cy="124.6" r="2.65"/><circle cx="435.2" cy="126.4" r="2.65"/><circle cx="372.8" cy="131.6" r="2.65"/><circle cx="432.0" cy="106.0" r="2.65"/><circle cx="456.6" cy="49.6" r="2.65"/><circle cx="436.6" cy="119.7" r="2.65"/><circle cx="463.2" cy="71.2" r="2.65"/><circle cx="411.4" cy="142.5" r="2.65"/><circle cx="423.3" cy="124.0" r="2.65"/><circle cx="419.9" cy="89.3" r="2.65"/><circle cx="457.6" cy="132.0" r="2.65"/><circle cx="446.3" cy="123.3" r="2.65"/><circle cx="397.1" cy="124.6" r="2.65"/><circle cx="431.4" cy="70.3" r="2.65"/><circle cx="453.4" cy="46.0" r="2.65"/><circle cx="456.3" cy="128.0" r="2.65"/><circle cx="383.9" cy="127.1" r="2.65"/><circle cx="430.1" cy="135.3" r="2.65"/><circle cx="422.0" cy="91.2" r="2.65"/><circle cx="428.4" cy="73.3" r="2.65"/><circle cx="401.6" cy="114.4" r="2.65"/><circle cx="412.5" cy="115.4" r="2.65"/><circle cx="454.3" cy="79.5" r="2.65"/><circle cx="435.4" cy="68.8" r="2.65"/><circle cx="410.5" cy="108.5" r="2.65"/><circle cx="462.3" cy="68.3" r="2.65"/><circle cx="403.9" cy="123.3" r="2.65"/><circle cx="439.0" cy="76.9" r="2.65"/><circle cx="380.0" cy="142.1" r="2.65"/><circle cx="472.0" cy="101.1" r="2.65"/><circle cx="411.5" cy="120.6" r="2.65"/><circle cx="450.2" cy="47.8" r="2.65"/><circle cx="438.9" cy="125.2" r="2.65"/><circle cx="447.9" cy="107.5" r="2.65"/><circle cx="392.6" cy="139.4" r="2.65"/><circle cx="462.4" cy="93.5" r="2.65"/><circle cx="455.4" cy="91.1" r="2.65"/><circle cx="435.6" cy="85.1" r="2.65"/><circle cx="390.8" cy="128.5" r="2.65"/><circle cx="443.3" cy="137.3" r="2.65"/><circle cx="461.7" cy="131.4" r="2.65"/><circle cx="452.2" cy="114.4" r="2.65"/><circle cx="454.9" cy="130.3" r="2.65"/><circle cx="409.0" cy="117.8" r="2.65"/><circle cx="411.3" cy="139.9" r="2.65"/><circle cx="440.2" cy="117.1" r="2.65"/><circle cx="417.1" cy="99.3" r="2.65"/><circle cx="457.7" cy="76.4" r="2.65"/><circle cx="385.5" cy="143.2" r="2.65"/><circle cx="408.2" cy="112.3" r="2.65"/><circle cx="428.5" cy="145.9" r="2.65"/><circle cx="426.5" cy="132.7" r="2.65"/><circle cx="470.6" cy="88.8" r="2.65"/><circle cx="461.8" cy="77.4" r="2.65"/><circle cx="464.7" cy="64.8" r="2.65"/><circle cx="436.0" cy="61.2" r="2.65"/><circle cx="426.6" cy="139.7" r="2.65"/><circle cx="467.2" cy="107.6" r="2.65"/><circle cx="439.5" cy="60.6" r="2.65"/><circle cx="441.5" cy="121.5" r="2.65"/><circle cx="410.8" cy="130.7" r="2.65"/><circle cx="386.1" cy="140.7" r="2.65"/><circle cx="376.5" cy="141.0" r="2.65"/><circle cx="457.0" cy="55.6" r="2.65"/><circle cx="444.3" cy="89.6" r="2.65"/><circle cx="425.5" cy="74.0" r="2.65"/><circle cx="428.7" cy="70.2" r="2.65"/><circle cx="420.9" cy="86.4" r="2.65"/><circle cx="379.7" cy="134.8" r="2.65"/><circle cx="453.2" cy="101.2" r="2.65"/><circle cx="454.1" cy="69.2" r="2.65"/><circle cx="466.1" cy="68.0" r="2.65"/><circle cx="470.4" cy="117.1" r="2.65"/><circle cx="419.8" cy="87.4" r="2.65"/><circle cx="451.7" cy="83.8" r="2.65"/><circle cx="430.9" cy="87.5" r="2.65"/><circle cx="473.9" cy="82.6" r="2.65"/><circle cx="452.6" cy="72.6" r="2.65"/><circle cx="426.9" cy="101.7" r="2.65"/><circle cx="398.4" cy="120.2" r="2.65"/><circle cx="433.6" cy="108.6" r="2.65"/><circle cx="435.3" cy="130.3" r="2.65"/><circle cx="443.6" cy="107.0" r="2.65"/><circle cx="468.4" cy="82.5" r="2.65"/><circle cx="436.4" cy="80.9" r="2.65"/><circle cx="400.7" cy="137.2" r="2.65"/><circle cx="478.5" cy="74.1" r="2.65"/><circle cx="465.2" cy="101.6" r="2.65"/><circle cx="418.3" cy="121.8" r="2.65"/><circle cx="471.6" cy="104.3" r="2.65"/><circle cx="442.0" cy="138.6" r="2.65"/><circle cx="391.9" cy="134.0" r="2.65"/><circle cx="407.4" cy="133.3" r="2.65"/><circle cx="482.5" cy="75.9" r="2.65"/><circle cx="439.0" cy="66.0" r="2.65"/><circle cx="440.4" cy="58.2" r="2.65"/><circle cx="457.1" cy="70.2" r="2.65"/><circle cx="433.2" cy="92.7" r="2.65"/><circle cx="427.0" cy="79.2" r="2.65"/><circle cx="452.7" cy="95.1" r="2.65"/><circle cx="421.4" cy="99.5" r="2.65"/><circle cx="399.6" cy="128.9" r="2.65"/><circle cx="429.9" cy="61.4" r="2.65"/><circle cx="378.9" cy="132.8" r="2.65"/><circle cx="454.0" cy="64.0" r="2.65"/><circle cx="449.1" cy="105.0" r="2.65"/><circle cx="419.3" cy="136.3" r="2.65"/><circle cx="475.4" cy="98.7" r="2.65"/><circle cx="461.3" cy="67.2" r="2.65"/><circle cx="457.0" cy="96.4" r="2.65"/><circle cx="419.3" cy="123.3" r="2.65"/><circle cx="439.1" cy="69.7" r="2.65"/><circle cx="419.2" cy="107.6" r="2.65"/><circle cx="455.9" cy="115.3" r="2.65"/><circle cx="419.1" cy="131.0" r="2.65"/><circle cx="398.8" cy="114.2" r="2.65"/><circle cx="447.0" cy="43.7" r="2.65"/><circle cx="434.6" cy="56.2" r="2.65"/><circle cx="401.1" cy="125.9" r="2.65"/><circle cx="452.4" cy="127.3" r="2.65"/><circle cx="410.3" cy="124.2" r="2.65"/><circle cx="458.9" cy="136.6" r="2.65"/><circle cx="467.3" cy="114.6" r="2.65"/><circle cx="457.7" cy="97.7" r="2.65"/><circle cx="383.3" cy="131.0" r="2.65"/><circle cx="472.2" cy="74.6" r="2.65"/><circle cx="416.7" cy="139.8" r="2.65"/><circle cx="475.6" cy="89.8" r="2.65"/><circle cx="468.1" cy="92.5" r="2.65"/><circle cx="457.4" cy="107.8" r="2.65"/><circle cx="437.1" cy="141.9" r="2.65"/><circle cx="417.0" cy="88.6" r="2.65"/><circle cx="452.7" cy="97.3" r="2.65"/><circle cx="473.9" cy="105.3" r="2.65"/><circle cx="439.0" cy="107.2" r="2.65"/><circle cx="412.5" cy="136.8" r="2.65"/><circle cx="469.6" cy="106.3" r="2.65"/><circle cx="438.6" cy="130.9" r="2.65"/><circle cx="460.7" cy="105.0" r="2.65"/><circle cx="430.0" cy="108.4" r="2.65"/><circle cx="428.8" cy="62.1" r="2.65"/><circle cx="380.2" cy="139.8" r="2.65"/><circle cx="411.4" cy="106.8" r="2.65"/><circle cx="453.9" cy="82.0" r="2.65"/><circle cx="402.7" cy="122.6" r="2.65"/><circle cx="420.7" cy="109.6" r="2.65"/><circle cx="449.5" cy="104.8" r="2.65"/><circle cx="416.8" cy="111.9" r="2.65"/><circle cx="446.3" cy="114.4" r="2.65"/><circle cx="460.1" cy="66.4" r="2.65"/><circle cx="408.5" cy="103.9" r="2.65"/><circle cx="463.3" cy="61.1" r="2.65"/><circle cx="446.6" cy="122.4" r="2.65"/><circle cx="434.7" cy="93.5" r="2.65"/><circle cx="459.4" cy="86.7" r="2.65"/><circle cx="428.9" cy="132.4" r="2.65"/><circle cx="432.8" cy="116.1" r="2.65"/><circle cx="479.5" cy="91.7" r="2.65"/><circle cx="415.3" cy="125.4" r="2.65"/><circle cx="437.5" cy="133.3" r="2.65"/><circle cx="406.1" cy="141.3" r="2.65"/><circle cx="404.7" cy="116.4" r="2.65"/><circle cx="387.3" cy="144.0" r="2.65"/><circle cx="422.1" cy="108.3" r="2.65"/><circle cx="470.4" cy="88.4" r="2.65"/><circle cx="443.3" cy="82.5" r="2.65"/><circle cx="425.8" cy="99.7" r="2.65"/><circle cx="450.2" cy="122.8" r="2.65"/><circle cx="409.3" cy="117.1" r="2.65"/><circle cx="453.4" cy="57.7" r="2.65"/><circle cx="423.7" cy="79.5" r="2.65"/><circle cx="426.6" cy="94.4" r="2.65"/><circle cx="423.1" cy="103.0" r="2.65"/><circle cx="461.8" cy="91.8" r="2.65"/><circle cx="449.8" cy="64.9" r="2.65"/><circle cx="432.3" cy="90.3" r="2.65"/><circle cx="445.4" cy="78.2" r="2.65"/><circle cx="424.0" cy="118.8" r="2.65"/><circle cx="449.9" cy="115.5" r="2.65"/><circle cx="456.4" cy="133.7" r="2.65"/><circle cx="474.7" cy="101.4" r="2.65"/><circle cx="465.1" cy="114.9" r="2.65"/><circle cx="445.0" cy="120.1" r="2.65"/><circle cx="367.7" cy="128.2" r="2.65"/><circle cx="436.3" cy="134.3" r="2.65"/><circle cx="410.6" cy="113.4" r="2.65"/><circle cx="422.5" cy="115.9" r="2.65"/><circle cx="422.0" cy="112.5" r="2.65"/><circle cx="459.6" cy="96.7" r="2.65"/><circle cx="467.4" cy="110.9" r="2.65"/><circle cx="446.3" cy="142.0" r="2.65"/><circle cx="414.9" cy="111.3" r="2.65"/><circle cx="434.7" cy="120.3" r="2.65"/><circle cx="433.7" cy="134.0" r="2.65"/><circle cx="468.0" cy="84.5" r="2.65"/><circle cx="418.1" cy="129.2" r="2.65"/><circle cx="412.5" cy="141.8" r="2.65"/><circle cx="425.7" cy="84.6" r="2.65"/><circle cx="425.7" cy="83.1" r="2.65"/><circle cx="448.4" cy="63.3" r="2.65"/><circle cx="465.1" cy="121.8" r="2.65"/><circle cx="421.4" cy="74.7" r="2.65"/><circle cx="384.7" cy="131.7" r="2.65"/><circle cx="447.0" cy="110.3" r="2.65"/><circle cx="459.8" cy="119.4" r="2.65"/><circle cx="372.0" cy="144.5" r="2.65"/><circle cx="439.8" cy="56.4" r="2.65"/><circle cx="448.3" cy="87.9" r="2.65"/><circle cx="434.4" cy="133.8" r="2.65"/><circle cx="464.9" cy="71.5" r="2.65"/><circle cx="404.4" cy="128.3" r="2.65"/><circle cx="443.7" cy="103.1" r="2.65"/><circle cx="456.1" cy="119.6" r="2.65"/><circle cx="449.7" cy="97.4" r="2.65"/><circle cx="461.8" cy="73.0" r="2.65"/><circle cx="464.1" cy="100.0" r="2.65"/><circle cx="460.4" cy="108.0" r="2.65"/><circle cx="444.2" cy="71.0" r="2.65"/><circle cx="481.6" cy="91.6" r="2.65"/><circle cx="457.5" cy="130.2" r="2.65"/><circle cx="401.9" cy="139.0" r="2.65"/><circle cx="451.1" cy="133.3" r="2.65"/><circle cx="404.5" cy="127.4" r="2.65"/><circle cx="363.7" cy="135.7" r="2.65"/><circle cx="463.6" cy="125.5" r="2.65"/><circle cx="449.9" cy="125.4" r="2.65"/><circle cx="382.7" cy="138.7" r="2.65"/><circle cx="463.0" cy="123.5" r="2.65"/><circle cx="479.7" cy="82.2" r="2.65"/><circle cx="445.4" cy="64.6" r="2.65"/><circle cx="395.9" cy="138.0" r="2.65"/><circle cx="393.8" cy="130.4" r="2.65"/><circle cx="462.6" cy="111.2" r="2.65"/><circle cx="439.9" cy="71.2" r="2.65"/><circle cx="429.6" cy="125.2" r="2.65"/><circle cx="413.7" cy="112.9" r="2.65"/><circle cx="449.4" cy="64.2" r="2.65"/><circle cx="441.0" cy="128.5" r="2.65"/><circle cx="468.5" cy="77.1" r="2.65"/><circle cx="477.8" cy="83.5" r="2.65"/><circle cx="442.2" cy="111.5" r="2.65"/><circle cx="427.7" cy="94.8" r="2.65"/><circle cx="456.7" cy="101.5" r="2.65"/><circle cx="465.5" cy="104.7" r="2.65"/><circle cx="435.6" cy="106.7" r="2.65"/><circle cx="421.5" cy="126.3" r="2.65"/><circle cx="441.2" cy="114.8" r="2.65"/><circle cx="456.1" cy="109.8" r="2.65"/><circle cx="451.4" cy="65.4" r="2.65"/><circle cx="429.6" cy="113.1" r="2.65"/><circle cx="480.7" cy="68.5" r="2.65"/><circle cx="404.3" cy="146.0" r="2.65"/><circle cx="475.2" cy="80.2" r="2.65"/><circle cx="410.6" cy="126.3" r="2.65"/><circle cx="421.5" cy="141.0" r="2.65"/><circle cx="469.3" cy="111.7" r="2.65"/><circle cx="442.4" cy="125.0" r="2.65"/><circle cx="465.3" cy="98.9" r="2.65"/><circle cx="455.5" cy="73.5" r="2.65"/><circle cx="435.2" cy="114.9" r="2.65"/><circle cx="470.6" cy="78.6" r="2.65"/><circle cx="470.2" cy="67.9" r="2.65"/><circle cx="447.6" cy="50.0" r="2.65"/><circle cx="393.4" cy="144.9" r="2.65"/><circle cx="444.1" cy="82.2" r="2.65"/><circle cx="448.3" cy="128.6" r="2.65"/><circle cx="421.7" cy="98.6" r="2.65"/><circle cx="418.8" cy="112.1" r="2.65"/><circle cx="404.5" cy="126.0" r="2.65"/><circle cx="465.1" cy="113.2" r="2.65"/><circle cx="471.5" cy="84.6" r="2.65"/><circle cx="476.2" cy="71.2" r="2.65"/><circle cx="459.3" cy="75.2" r="2.65"/><circle cx="438.1" cy="70.9" r="2.65"/><circle cx="418.2" cy="87.1" r="2.65"/><circle cx="436.3" cy="75.8" r="2.65"/><circle cx="452.2" cy="67.2" r="2.65"/><circle cx="423.0" cy="94.4" r="2.65"/><circle cx="406.3" cy="120.4" r="2.65"/><circle cx="461.6" cy="124.3" r="2.65"/><circle cx="434.5" cy="74.7" r="2.65"/><circle cx="395.3" cy="123.5" r="2.65"/><circle cx="442.0" cy="117.0" r="2.65"/><circle cx="451.9" cy="63.4" r="2.65"/><circle cx="413.7" cy="104.4" r="2.65"/><circle cx="451.3" cy="115.7" r="2.65"/><circle cx="405.0" cy="118.1" r="2.65"/><circle cx="388.4" cy="126.9" r="2.65"/><circle cx="470.4" cy="100.5" r="2.65"/><circle cx="457.3" cy="98.8" r="2.65"/><circle cx="440.4" cy="96.0" r="2.65"/><circle cx="446.0" cy="58.3" r="2.65"/><circle cx="443.4" cy="120.5" r="2.65"/><circle cx="443.5" cy="118.8" r="2.65"/><circle cx="416.1" cy="100.4" r="2.65"/><circle cx="427.6" cy="129.5" r="2.65"/><circle cx="438.6" cy="138.1" r="2.65"/><circle cx="429.7" cy="121.1" r="2.65"/><circle cx="382.1" cy="140.1" r="2.65"/><circle cx="453.3" cy="75.6" r="2.65"/><circle cx="435.9" cy="72.5" r="2.65"/><circle cx="444.8" cy="74.9" r="2.65"/><circle cx="454.4" cy="126.3" r="2.65"/><circle cx="438.8" cy="92.5" r="2.65"/><circle cx="459.1" cy="90.6" r="2.65"/><circle cx="455.6" cy="77.9" r="2.65"/><circle cx="403.0" cy="144.5" r="2.65"/><circle cx="459.3" cy="82.3" r="2.65"/><circle cx="409.3" cy="124.9" r="2.65"/><circle cx="474.1" cy="78.7" r="2.65"/><circle cx="447.0" cy="80.7" r="2.65"/><circle cx="446.6" cy="115.2" r="2.65"/><circle cx="444.7" cy="130.1" r="2.65"/><circle cx="476.1" cy="104.4" r="2.65"/><circle cx="463.2" cy="80.2" r="2.65"/><circle cx="462.9" cy="100.6" r="2.65"/><circle cx="443.0" cy="124.2" r="2.65"/><circle cx="464.9" cy="76.8" r="2.65"/><circle cx="451.1" cy="43.6" r="2.65"/><circle cx="435.9" cy="125.8" r="2.65"/><circle cx="455.8" cy="107.3" r="2.65"/><circle cx="474.4" cy="88.5" r="2.65"/><circle cx="425.3" cy="133.7" r="2.65"/><circle cx="456.1" cy="84.8" r="2.65"/><circle cx="403.8" cy="137.2" r="2.65"/><circle cx="455.3" cy="58.8" r="2.65"/><circle cx="460.4" cy="96.1" r="2.65"/><circle cx="442.0" cy="63.2" r="2.65"/><circle cx="465.7" cy="65.1" r="2.65"/><circle cx="460.7" cy="122.4" r="2.65"/><circle cx="441.1" cy="65.8" r="2.65"/><circle cx="430.3" cy="111.6" r="2.65"/><circle cx="474.2" cy="76.5" r="2.65"/><circle cx="458.2" cy="113.1" r="2.65"/><circle cx="470.0" cy="93.4" r="2.65"/><circle cx="463.9" cy="83.0" r="2.65"/><circle cx="475.7" cy="91.0" r="2.65"/><circle cx="430.9" cy="99.0" r="2.65"/><circle cx="454.9" cy="101.4" r="2.65"/><circle cx="420.5" cy="78.1" r="2.65"/><circle cx="460.9" cy="79.4" r="2.65"/><circle cx="423.1" cy="114.0" r="2.65"/><circle cx="456.7" cy="82.6" r="2.65"/><circle cx="411.3" cy="137.7" r="2.65"/><circle cx="432.4" cy="121.7" r="2.65"/><circle cx="421.8" cy="119.8" r="2.65"/><circle cx="481.7" cy="85.8" r="2.65"/><circle cx="408.0" cy="119.8" r="2.65"/><circle cx="400.9" cy="133.1" r="2.65"/><circle cx="444.3" cy="44.2" r="2.65"/><circle cx="453.5" cy="111.7" r="2.65"/><circle cx="474.9" cy="82.9" r="2.65"/><circle cx="445.6" cy="128.7" r="2.65"/><circle cx="437.9" cy="85.6" r="2.65"/><circle cx="421.9" cy="134.6" r="2.65"/><circle cx="445.9" cy="93.2" r="2.65"/><circle cx="432.8" cy="100.9" r="2.65"/><circle cx="428.6" cy="76.1" r="2.65"/><circle cx="404.5" cy="132.6" r="2.65"/><circle cx="444.8" cy="78.1" r="2.65"/><circle cx="461.5" cy="118.9" r="2.65"/><circle cx="368.3" cy="133.5" r="2.65"/><circle cx="429.4" cy="79.9" r="2.65"/><circle cx="423.7" cy="146.3" r="2.65"/><circle cx="445.7" cy="136.2" r="2.65"/><circle cx="391.5" cy="130.8" r="2.65"/><circle cx="384.0" cy="134.1" r="2.65"/><circle cx="405.1" cy="118.3" r="2.65"/><circle cx="411.2" cy="138.3" r="2.65"/><circle cx="438.9" cy="119.1" r="2.65"/><circle cx="442.2" cy="84.1" r="2.65"/><circle cx="439.4" cy="74.8" r="2.65"/><circle cx="450.8" cy="104.3" r="2.65"/><circle cx="452.6" cy="49.1" r="2.65"/><circle cx="434.8" cy="84.2" r="2.65"/><circle cx="474.6" cy="69.1" r="2.65"/><circle cx="404.2" cy="120.6" r="2.65"/><circle cx="426.2" cy="103.3" r="2.65"/><circle cx="450.3" cy="80.0" r="2.65"/><circle cx="447.0" cy="99.0" r="2.65"/><circle cx="443.4" cy="71.1" r="2.65"/><circle cx="421.6" cy="99.3" r="2.65"/><circle cx="452.8" cy="97.4" r="2.65"/><circle cx="437.1" cy="100.5" r="2.65"/><circle cx="436.0" cy="66.6" r="2.65"/><circle cx="419.9" cy="126.7" r="2.65"/><circle cx="442.7" cy="131.8" r="2.65"/><circle cx="426.4" cy="137.1" r="2.65"/><circle cx="438.1" cy="81.2" r="2.65"/><circle cx="430.1" cy="85.6" r="2.65"/><circle cx="485.0" cy="83.1" r="2.65"/><circle cx="434.3" cy="102.5" r="2.65"/><circle cx="446.3" cy="133.5" r="2.65"/><circle cx="435.4" cy="103.4" r="2.65"/><circle cx="456.3" cy="54.3" r="2.65"/><circle cx="442.6" cy="99.8" r="2.65"/><circle cx="434.1" cy="95.9" r="2.65"/><circle cx="465.4" cy="123.8" r="2.65"/><circle cx="466.6" cy="74.5" r="2.65"/><circle cx="453.0" cy="70.8" r="2.65"/><circle cx="436.4" cy="126.7" r="2.65"/><circle cx="459.9" cy="109.1" r="2.65"/><circle cx="452.2" cy="85.5" r="2.65"/><circle cx="434.1" cy="88.2" r="2.65"/><circle cx="440.8" cy="77.6" r="2.65"/><circle cx="437.4" cy="52.3" r="2.65"/><circle cx="421.1" cy="81.9" r="2.65"/><circle cx="471.3" cy="112.5" r="2.65"/><circle cx="444.5" cy="88.0" r="2.65"/><circle cx="390.0" cy="135.1" r="2.65"/><circle cx="428.2" cy="114.9" r="2.65"/><circle cx="459.6" cy="128.6" r="2.65"/><circle cx="454.7" cy="61.5" r="2.65"/><circle cx="444.3" cy="117.7" r="2.65"/><circle cx="472.6" cy="101.6" r="2.65"/><circle cx="466.0" cy="128.4" r="2.65"/><circle cx="449.3" cy="102.7" r="2.65"/><circle cx="439.0" cy="91.6" r="2.65"/><circle cx="433.7" cy="139.1" r="2.65"/><circle cx="469.0" cy="91.2" r="2.65"/><circle cx="456.1" cy="65.6" r="2.65"/><circle cx="470.7" cy="113.6" r="2.65"/><circle cx="454.2" cy="62.5" r="2.65"/><circle cx="444.0" cy="109.8" r="2.65"/><circle cx="405.1" cy="144.9" r="2.65"/><circle cx="451.2" cy="109.0" r="2.65"/><circle cx="428.7" cy="138.7" r="2.65"/><circle cx="434.9" cy="120.1" r="2.65"/><circle cx="393.1" cy="144.8" r="2.65"/><circle cx="429.9" cy="115.1" r="2.65"/><circle cx="427.5" cy="118.1" r="2.65"/><circle cx="428.8" cy="70.5" r="2.65"/><circle cx="424.5" cy="128.5" r="2.65"/><circle cx="456.0" cy="105.1" r="2.65"/><circle cx="413.7" cy="120.7" r="2.65"/><circle cx="431.2" cy="75.4" r="2.65"/><circle cx="451.3" cy="136.5" r="2.65"/><circle cx="428.6" cy="70.3" r="2.65"/><circle cx="373.9" cy="134.1" r="2.65"/><circle cx="459.7" cy="60.4" r="2.65"/><circle cx="440.7" cy="86.1" r="2.65"/><circle cx="474.3" cy="70.2" r="2.65"/><circle cx="398.0" cy="136.5" r="2.65"/><circle cx="453.1" cy="139.3" r="2.65"/><circle cx="436.9" cy="79.3" r="2.65"/><circle cx="461.4" cy="113.9" r="2.65"/><circle cx="451.4" cy="85.3" r="2.65"/><circle cx="440.9" cy="79.7" r="2.65"/><circle cx="468.8" cy="67.1" r="2.65"/><circle cx="480.1" cy="79.0" r="2.65"/><circle cx="427.0" cy="107.5" r="2.65"/><circle cx="452.1" cy="55.0" r="2.65"/><circle cx="436.0" cy="91.2" r="2.65"/><circle cx="448.3" cy="103.6" r="2.65"/><circle cx="436.6" cy="69.6" r="2.65"/><circle cx="454.5" cy="65.8" r="2.65"/><circle cx="417.2" cy="121.5" r="2.65"/><circle cx="460.7" cy="88.4" r="2.65"/><circle cx="434.1" cy="100.4" r="2.65"/><circle cx="458.1" cy="113.8" r="2.65"/><circle cx="416.7" cy="132.0" r="2.65"/><circle cx="399.2" cy="131.1" r="2.65"/><circle cx="449.0" cy="93.6" r="2.65"/><circle cx="441.4" cy="100.0" r="2.65"/><circle cx="388.0" cy="135.7" r="2.65"/><circle cx="381.4" cy="126.5" r="2.65"/><circle cx="449.1" cy="138.5" r="2.65"/><circle cx="478.7" cy="84.5" r="2.65"/><circle cx="441.0" cy="71.9" r="2.65"/><circle cx="460.0" cy="102.2" r="2.65"/><circle cx="478.5" cy="105.4" r="2.65"/><circle cx="465.6" cy="65.8" r="2.65"/><circle cx="456.9" cy="72.9" r="2.65"/><circle cx="434.9" cy="83.7" r="2.65"/><circle cx="453.7" cy="99.0" r="2.65"/><circle cx="454.7" cy="80.0" r="2.65"/><circle cx="449.5" cy="80.9" r="2.65"/><circle cx="422.1" cy="97.4" r="2.65"/><circle cx="432.1" cy="88.4" r="2.65"/><circle cx="399.0" cy="129.4" r="2.65"/><circle cx="458.2" cy="74.5" r="2.65"/><circle cx="447.7" cy="136.9" r="2.65"/><circle cx="419.0" cy="115.1" r="2.65"/><circle cx="379.9" cy="127.1" r="2.65"/><circle cx="441.6" cy="93.7" r="2.65"/><circle cx="402.5" cy="136.0" r="2.65"/><circle cx="403.6" cy="130.6" r="2.65"/><circle cx="393.1" cy="119.4" r="2.65"/><circle cx="417.2" cy="136.1" r="2.65"/><circle cx="427.2" cy="106.4" r="2.65"/><circle cx="418.7" cy="144.9" r="2.65"/><circle cx="467.0" cy="109.0" r="2.65"/><circle cx="407.2" cy="123.4" r="2.65"/><circle cx="433.1" cy="59.2" r="2.65"/><circle cx="450.7" cy="99.4" r="2.65"/><circle cx="440.3" cy="104.2" r="2.65"/><circle cx="429.2" cy="118.8" r="2.65"/><circle cx="451.1" cy="92.4" r="2.65"/><circle cx="478.5" cy="98.9" r="2.65"/><circle cx="456.8" cy="97.2" r="2.65"/><circle cx="431.5" cy="95.3" r="2.65"/><circle cx="466.7" cy="83.3" r="2.65"/><circle cx="476.4" cy="73.7" r="2.65"/><circle cx="433.3" cy="64.9" r="2.65"/><circle cx="447.4" cy="86.3" r="2.65"/><circle cx="418.3" cy="105.1" r="2.65"/><circle cx="428.0" cy="117.9" r="2.65"/><circle cx="419.8" cy="133.0" r="2.65"/><circle cx="423.6" cy="102.7" r="2.65"/><circle cx="431.8" cy="136.8" r="2.65"/><circle cx="481.8" cy="77.4" r="2.65"/><circle cx="454.6" cy="55.4" r="2.65"/><circle cx="428.3" cy="89.3" r="2.65"/><circle cx="426.8" cy="110.9" r="2.65"/><circle cx="483.0" cy="69.8" r="2.65"/><circle cx="413.2" cy="131.7" r="2.65"/><circle cx="411.1" cy="140.5" r="2.65"/><circle cx="403.2" cy="141.6" r="2.65"/><circle cx="450.9" cy="71.3" r="2.65"/><circle cx="424.2" cy="106.3" r="2.65"/><circle cx="424.9" cy="136.6" r="2.65"/><circle cx="463.1" cy="70.8" r="2.65"/><circle cx="426.9" cy="109.6" r="2.65"/><circle cx="410.8" cy="113.1" r="2.65"/><circle cx="423.3" cy="82.7" r="2.65"/><circle cx="436.4" cy="98.3" r="2.65"/><circle cx="435.8" cy="114.7" r="2.65"/><circle cx="387.6" cy="128.7" r="2.65"/><circle cx="452.6" cy="102.8" r="2.65"/><circle cx="452.4" cy="89.4" r="2.65"/><circle cx="454.2" cy="90.2" r="2.65"/><circle cx="404.1" cy="139.4" r="2.65"/><circle cx="443.8" cy="111.3" r="2.65"/><circle cx="420.0" cy="122.9" r="2.65"/><circle cx="434.6" cy="86.4" r="2.65"/><circle cx="414.7" cy="144.2" r="2.65"/><circle cx="467.9" cy="95.5" r="2.65"/><circle cx="465.2" cy="118.5" r="2.65"/><circle cx="406.8" cy="119.1" r="2.65"/><circle cx="445.0" cy="91.4" r="2.65"/><circle cx="418.6" cy="138.8" r="2.65"/><circle cx="433.9" cy="126.6" r="2.65"/><circle cx="406.9" cy="112.6" r="2.65"/><circle cx="424.1" cy="89.3" r="2.65"/><circle cx="475.4" cy="95.0" r="2.65"/><circle cx="429.1" cy="87.4" r="2.65"/><circle cx="408.5" cy="131.8" r="2.65"/><circle cx="466.7" cy="97.8" r="2.65"/><circle cx="417.6" cy="98.1" r="2.65"/><circle cx="451.4" cy="125.3" r="2.65"/><circle cx="432.2" cy="98.8" r="2.65"/><circle cx="414.1" cy="118.2" r="2.65"/><circle cx="419.6" cy="104.4" r="2.65"/><circle cx="450.8" cy="118.6" r="2.65"/><circle cx="382.9" cy="135.3" r="2.65"/><circle cx="466.4" cy="94.0" r="2.65"/><circle cx="399.2" cy="140.4" r="2.65"/><circle cx="403.7" cy="124.4" r="2.65"/><circle cx="460.0" cy="120.3" r="2.65"/><circle cx="457.5" cy="116.8" r="2.65"/><circle cx="451.9" cy="110.7" r="2.65"/><circle cx="478.3" cy="89.1" r="2.65"/><circle cx="442.4" cy="70.4" r="2.65"/><circle cx="432.4" cy="85.6" r="2.65"/><circle cx="427.4" cy="123.8" r="2.65"/><circle cx="418.2" cy="99.9" r="2.65"/><circle cx="434.1" cy="101.0" r="2.65"/><circle cx="416.4" cy="135.5" r="2.65"/><circle cx="384.7" cy="137.0" r="2.65"/><circle cx="447.1" cy="61.3" r="2.65"/><circle cx="477.0" cy="65.7" r="2.65"/><circle cx="461.2" cy="65.7" r="2.65"/><circle cx="418.0" cy="110.4" r="2.65"/><circle cx="443.3" cy="110.5" r="2.65"/><circle cx="445.5" cy="65.5" r="2.65"/><circle cx="412.1" cy="147.5" r="2.65"/><circle cx="480.7" cy="76.8" r="2.65"/><circle cx="441.6" cy="103.7" r="2.65"/><circle cx="423.5" cy="129.7" r="2.65"/><circle cx="388.5" cy="135.4" r="2.65"/><circle cx="395.1" cy="119.5" r="2.65"/><circle cx="427.1" cy="142.7" r="2.65"/><circle cx="481.4" cy="80.8" r="2.65"/><circle cx="438.9" cy="136.1" r="2.65"/><circle cx="446.4" cy="102.2" r="2.65"/><circle cx="450.0" cy="127.3" r="2.65"/><circle cx="416.1" cy="105.3" r="2.65"/><circle cx="462.7" cy="100.0" r="2.65"/><circle cx="449.3" cy="130.1" r="2.65"/><circle cx="436.5" cy="139.5" r="2.65"/><circle cx="424.5" cy="89.6" r="2.65"/><circle cx="412.2" cy="135.5" r="2.65"/><circle cx="451.0" cy="80.7" r="2.65"/><circle cx="414.8" cy="91.3" r="2.65"/><circle cx="455.1" cy="133.3" r="2.65"/><circle cx="413.2" cy="138.2" r="2.65"/><circle cx="465.8" cy="79.5" r="2.65"/><circle cx="431.5" cy="122.9" r="2.65"/><circle cx="437.5" cy="131.8" r="2.65"/><circle cx="475.4" cy="101.0" r="2.65"/><circle cx="422.8" cy="106.5" r="2.65"/><circle cx="384.0" cy="144.5" r="2.65"/><circle cx="436.7" cy="140.0" r="2.65"/><circle cx="457.8" cy="79.5" r="2.65"/><circle cx="467.7" cy="62.1" r="2.65"/><circle cx="432.5" cy="73.6" r="2.65"/><circle cx="443.6" cy="45.6" r="2.65"/><circle cx="430.7" cy="79.9" r="2.65"/><circle cx="445.5" cy="71.4" r="2.65"/><circle cx="472.5" cy="63.9" r="2.65"/><circle cx="472.8" cy="72.1" r="2.65"/><circle cx="453.3" cy="68.1" r="2.65"/><circle cx="453.2" cy="103.9" r="2.65"/><circle cx="425.8" cy="70.8" r="2.65"/><circle cx="435.8" cy="133.7" r="2.65"/><circle cx="419.0" cy="83.1" r="2.65"/><circle cx="419.5" cy="92.6" r="2.65"/><circle cx="417.4" cy="134.2" r="2.65"/><circle cx="477.9" cy="84.8" r="2.65"/><circle cx="406.0" cy="134.9" r="2.65"/><circle cx="445.3" cy="122.7" r="2.65"/><circle cx="456.3" cy="76.7" r="2.65"/><circle cx="441.1" cy="134.9" r="2.65"/><circle cx="443.4" cy="96.6" r="2.65"/><circle cx="452.7" cy="59.5" r="2.65"/><circle cx="421.6" cy="119.1" r="2.65"/><circle cx="459.9" cy="85.0" r="2.65"/><circle cx="426.1" cy="120.5" r="2.65"/><circle cx="420.1" cy="85.0" r="2.65"/><circle cx="438.5" cy="82.4" r="2.65"/><circle cx="419.5" cy="92.5" r="2.65"/><circle cx="429.9" cy="67.2" r="2.65"/><circle cx="426.4" cy="114.9" r="2.65"/><circle cx="404.2" cy="136.0" r="2.65"/><circle cx="414.4" cy="109.1" r="2.65"/><circle cx="470.2" cy="88.3" r="2.65"/><circle cx="469.2" cy="82.2" r="2.65"/><circle cx="427.2" cy="101.7" r="2.65"/><circle cx="432.7" cy="96.8" r="2.65"/><circle cx="434.1" cy="67.7" r="2.65"/><circle cx="419.2" cy="80.0" r="2.65"/><circle cx="419.8" cy="142.4" r="2.65"/><circle cx="431.4" cy="70.1" r="2.65"/><circle cx="461.8" cy="106.6" r="2.65"/><circle cx="466.3" cy="88.2" r="2.65"/><circle cx="446.8" cy="89.3" r="2.65"/><circle cx="470.3" cy="68.2" r="2.65"/><circle cx="469.8" cy="70.7" r="2.65"/><circle cx="412.0" cy="120.1" r="2.65"/><circle cx="431.2" cy="81.8" r="2.65"/><circle cx="441.1" cy="48.7" r="2.65"/><circle cx="450.4" cy="109.2" r="2.65"/><circle cx="453.8" cy="73.7" r="2.65"/><circle cx="392.5" cy="139.4" r="2.65"/><circle cx="424.6" cy="122.2" r="2.65"/><circle cx="478.1" cy="95.5" r="2.65"/><circle cx="453.9" cy="74.9" r="2.65"/><circle cx="427.4" cy="117.4" r="2.65"/><circle cx="391.3" cy="128.5" r="2.65"/><circle cx="460.5" cy="131.8" r="2.65"/><circle cx="444.8" cy="134.8" r="2.65"/><circle cx="462.7" cy="108.5" r="2.65"/><circle cx="471.2" cy="103.7" r="2.65"/><circle cx="440.9" cy="93.7" r="2.65"/><circle cx="459.2" cy="62.2" r="2.65"/><circle cx="437.6" cy="95.6" r="2.65"/><circle cx="453.9" cy="131.9" r="2.65"/><circle cx="429.0" cy="105.5" r="2.65"/><circle cx="418.4" cy="70.9" r="2.65"/><circle cx="453.4" cy="121.3" r="2.65"/><circle cx="441.2" cy="50.6" r="2.65"/><circle cx="420.0" cy="144.5" r="2.65"/><circle cx="435.1" cy="62.2" r="2.65"/><circle cx="411.3" cy="104.0" r="2.65"/><circle cx="450.4" cy="77.5" r="2.65"/><circle cx="427.9" cy="125.4" r="2.65"/><circle cx="469.9" cy="90.5" r="2.65"/><circle cx="432.0" cy="114.2" r="2.65"/><circle cx="404.0" cy="112.7" r="2.65"/><circle cx="412.3" cy="100.7" r="2.65"/><circle cx="446.0" cy="113.5" r="2.65"/><circle cx="448.1" cy="129.4" r="2.65"/><circle cx="452.9" cy="68.4" r="2.65"/><circle cx="464.7" cy="118.6" r="2.65"/><circle cx="475.8" cy="86.1" r="2.65"/><circle cx="450.9" cy="133.5" r="2.65"/><circle cx="446.3" cy="123.9" r="2.65"/><circle cx="404.6" cy="131.8" r="2.65"/><circle cx="436.9" cy="122.2" r="2.65"/><circle cx="430.4" cy="129.0" r="2.65"/><circle cx="450.3" cy="108.9" r="2.65"/><circle cx="384.7" cy="136.3" r="2.65"/><circle cx="432.9" cy="113.3" r="2.65"/><circle cx="469.4" cy="62.2" r="2.65"/><circle cx="423.4" cy="76.4" r="2.65"/><circle cx="412.7" cy="116.4" r="2.65"/><circle cx="443.4" cy="78.5" r="2.65"/><circle cx="467.5" cy="74.8" r="2.65"/><circle cx="461.1" cy="83.4" r="2.65"/><circle cx="442.9" cy="107.9" r="2.65"/><circle cx="439.8" cy="103.6" r="2.65"/><circle cx="411.7" cy="128.5" r="2.65"/><circle cx="428.5" cy="88.9" r="2.65"/><circle cx="411.4" cy="126.2" r="2.65"/><circle cx="427.9" cy="82.7" r="2.65"/><circle cx="387.7" cy="139.8" r="2.65"/><circle cx="462.7" cy="120.0" r="2.65"/><circle cx="413.5" cy="101.9" r="2.65"/><circle cx="440.2" cy="65.1" r="2.65"/><circle cx="458.9" cy="118.1" r="2.65"/><circle cx="424.1" cy="142.9" r="2.65"/><circle cx="384.1" cy="140.8" r="2.65"/><circle cx="452.8" cy="139.6" r="2.65"/><circle cx="464.2" cy="102.6" r="2.65"/><circle cx="439.3" cy="76.4" r="2.65"/><circle cx="474.3" cy="62.2" r="2.65"/><circle cx="422.2" cy="72.4" r="2.65"/><circle cx="430.8" cy="67.7" r="2.65"/><circle cx="429.6" cy="142.5" r="2.65"/><circle cx="417.2" cy="131.4" r="2.65"/><circle cx="431.4" cy="112.9" r="2.65"/><circle cx="430.3" cy="127.3" r="2.65"/><circle cx="429.0" cy="128.8" r="2.65"/><circle cx="438.0" cy="113.1" r="2.65"/><circle cx="446.3" cy="77.1" r="2.65"/><circle cx="446.4" cy="71.3" r="2.65"/><circle cx="445.3" cy="67.2" r="2.65"/><circle cx="408.0" cy="127.7" r="2.65"/><circle cx="466.9" cy="110.0" r="2.65"/><circle cx="397.4" cy="130.3" r="2.65"/><circle cx="414.2" cy="143.7" r="2.65"/><circle cx="404.0" cy="113.1" r="2.65"/><circle cx="392.0" cy="141.6" r="2.65"/><circle cx="454.1" cy="103.0" r="2.65"/><circle cx="393.1" cy="117.8" r="2.65"/><circle cx="434.3" cy="103.7" r="2.65"/><circle cx="459.4" cy="133.5" r="2.65"/><circle cx="420.8" cy="70.0" r="2.65"/><circle cx="433.3" cy="96.9" r="2.65"/><circle cx="396.8" cy="145.3" r="2.65"/><circle cx="468.6" cy="98.2" r="2.65"/><circle cx="464.6" cy="129.3" r="2.65"/><circle cx="473.3" cy="91.4" r="2.65"/><circle cx="458.3" cy="109.9" r="2.65"/><circle cx="454.0" cy="94.2" r="2.65"/><circle cx="456.4" cy="91.9" r="2.65"/><circle cx="446.9" cy="68.8" r="2.65"/><circle cx="419.0" cy="102.4" r="2.65"/><circle cx="455.1" cy="87.6" r="2.65"/><circle cx="434.2" cy="72.3" r="2.65"/><circle cx="443.6" cy="56.8" r="2.65"/><circle cx="396.3" cy="133.6" r="2.65"/><circle cx="400.3" cy="114.8" r="2.65"/><circle cx="477.6" cy="77.0" r="2.65"/><circle cx="458.6" cy="104.0" r="2.65"/><circle cx="397.5" cy="135.3" r="2.65"/><circle cx="432.8" cy="66.5" r="2.65"/><circle cx="465.6" cy="85.8" r="2.65"/><circle cx="442.2" cy="112.9" r="2.65"/><circle cx="420.8" cy="110.1" r="2.65"/><circle cx="406.9" cy="137.5" r="2.65"/><circle cx="446.1" cy="90.0" r="2.65"/><circle cx="434.9" cy="119.3" r="2.65"/><circle cx="429.5" cy="108.8" r="2.65"/><circle cx="432.7" cy="128.0" r="2.65"/><circle cx="408.8" cy="145.0" r="2.65"/><circle cx="471.7" cy="98.9" r="2.65"/><circle cx="448.2" cy="71.4" r="2.65"/><circle cx="396.8" cy="124.2" r="2.65"/><circle cx="451.2" cy="122.8" r="2.65"/><circle cx="430.2" cy="143.0" r="2.65"/><circle cx="436.6" cy="104.2" r="2.65"/><circle cx="467.3" cy="59.8" r="2.65"/><circle cx="447.8" cy="100.1" r="2.65"/><circle cx="462.7" cy="107.5" r="2.65"/><circle cx="466.9" cy="109.4" r="2.65"/><circle cx="429.3" cy="92.9" r="2.65"/><circle cx="406.6" cy="121.5" r="2.65"/><circle cx="412.7" cy="130.9" r="2.65"/><circle cx="453.9" cy="130.3" r="2.65"/><circle cx="452.6" cy="112.9" r="2.65"/><circle cx="420.4" cy="138.4" r="2.65"/><circle cx="385.7" cy="130.0" r="2.65"/><circle cx="449.1" cy="58.4" r="2.65"/><circle cx="389.8" cy="140.1" r="2.65"/><circle cx="448.4" cy="61.4" r="2.65"/><circle cx="383.1" cy="144.5" r="2.65"/><circle cx="474.1" cy="83.9" r="2.65"/><circle cx="481.5" cy="97.3" r="2.65"/><circle cx="437.5" cy="59.7" r="2.65"/><circle cx="451.0" cy="75.5" r="2.65"/><circle cx="446.1" cy="53.3" r="2.65"/><circle cx="463.3" cy="74.3" r="2.65"/><circle cx="386.1" cy="124.9" r="2.65"/><circle cx="449.0" cy="71.7" r="2.65"/><circle cx="426.0" cy="98.8" r="2.65"/><circle cx="390.4" cy="138.3" r="2.65"/><circle cx="443.0" cy="134.0" r="2.65"/><circle cx="424.3" cy="130.2" r="2.65"/><circle cx="447.0" cy="106.2" r="2.65"/><circle cx="479.9" cy="71.6" r="2.65"/><circle cx="430.4" cy="130.4" r="2.65"/><circle cx="437.9" cy="125.6" r="2.65"/><circle cx="470.0" cy="73.9" r="2.65"/><circle cx="462.7" cy="79.2" r="2.65"/><circle cx="472.5" cy="82.3" r="2.65"/><circle cx="377.8" cy="138.0" r="2.65"/><circle cx="444.1" cy="85.9" r="2.65"/><circle cx="411.6" cy="141.7" r="2.65"/><circle cx="428.1" cy="98.6" r="2.65"/><circle cx="377.4" cy="127.1" r="2.65"/><circle cx="380.2" cy="128.9" r="2.65"/><circle cx="426.9" cy="75.6" r="2.65"/><circle cx="453.4" cy="106.6" r="2.65"/><circle cx="466.8" cy="88.8" r="2.65"/><circle cx="459.2" cy="95.6" r="2.65"/><circle cx="411.0" cy="134.2" r="2.65"/><circle cx="439.4" cy="140.3" r="2.65"/><circle cx="427.3" cy="87.3" r="2.65"/><circle cx="427.0" cy="124.5" r="2.65"/><circle cx="450.7" cy="128.9" r="2.65"/><circle cx="407.2" cy="127.2" r="2.65"/><circle cx="472.8" cy="97.4" r="2.65"/><circle cx="423.5" cy="139.3" r="2.65"/><circle cx="461.3" cy="107.9" r="2.65"/><circle cx="415.4" cy="75.7" r="2.65"/><circle cx="448.5" cy="55.9" r="2.65"/><circle cx="453.4" cy="52.3" r="2.65"/><circle cx="463.9" cy="89.7" r="2.65"/><circle cx="425.5" cy="112.9" r="2.65"/><circle cx="403.7" cy="126.4" r="2.65"/><circle cx="420.7" cy="68.7" r="2.65"/><circle cx="470.8" cy="95.5" r="2.65"/><circle cx="443.6" cy="60.3" r="2.65"/><circle cx="439.9" cy="122.7" r="2.65"/><circle cx="449.9" cy="118.1" r="2.65"/><circle cx="406.9" cy="130.0" r="2.65"/><circle cx="415.1" cy="103.6" r="2.65"/><circle cx="408.7" cy="108.8" r="2.65"/><circle cx="416.7" cy="136.7" r="2.65"/><circle cx="442.7" cy="92.7" r="2.65"/><circle cx="450.1" cy="87.3" r="2.65"/><circle cx="459.1" cy="110.0" r="2.65"/><circle cx="454.3" cy="122.5" r="2.65"/><circle cx="405.6" cy="141.8" r="2.65"/><circle cx="457.7" cy="81.6" r="2.65"/><circle cx="415.6" cy="96.0" r="2.65"/><circle cx="397.5" cy="121.3" r="2.65"/><circle cx="420.9" cy="77.2" r="2.65"/><circle cx="409.3" cy="141.4" r="2.65"/><circle cx="416.4" cy="117.7" r="2.65"/><circle cx="463.1" cy="136.1" r="2.65"/><circle cx="450.4" cy="60.2" r="2.65"/><circle cx="438.4" cy="89.2" r="2.65"/><circle cx="407.3" cy="134.6" r="2.65"/><circle cx="415.3" cy="115.6" r="2.65"/><circle cx="392.8" cy="135.7" r="2.65"/><circle cx="449.3" cy="74.2" r="2.65"/><circle cx="458.3" cy="136.7" r="2.65"/><circle cx="481.8" cy="82.3" r="2.65"/><circle cx="467.0" cy="122.0" r="2.65"/><circle cx="478.7" cy="69.6" r="2.65"/><circle cx="434.0" cy="132.4" r="2.65"/><circle cx="442.5" cy="121.6" r="2.65"/><circle cx="469.3" cy="91.3" r="2.65"/><circle cx="398.9" cy="124.5" r="2.65"/><circle cx="379.9" cy="145.9" r="2.65"/><circle cx="481.9" cy="68.4" r="2.65"/><circle cx="381.5" cy="136.7" r="2.65"/><circle cx="437.6" cy="128.9" r="2.65"/><circle cx="445.4" cy="81.7" r="2.65"/><circle cx="427.1" cy="115.8" r="2.65"/><circle cx="434.5" cy="141.0" r="2.65"/><circle cx="430.0" cy="102.9" r="2.65"/><circle cx="411.5" cy="104.9" r="2.65"/><circle cx="439.3" cy="133.0" r="2.65"/><circle cx="422.5" cy="93.7" r="2.65"/><circle cx="418.1" cy="96.3" r="2.65"/><circle cx="463.9" cy="126.2" r="2.65"/><circle cx="410.6" cy="128.7" r="2.65"/><circle cx="468.4" cy="68.3" r="2.65"/><circle cx="391.1" cy="136.7" r="2.65"/><circle cx="460.6" cy="64.0" r="2.65"/><circle cx="461.4" cy="94.0" r="2.65"/><circle cx="477.4" cy="91.2" r="2.65"/><circle cx="451.4" cy="94.0" r="2.65"/><circle cx="418.6" cy="127.3" r="2.65"/><circle cx="470.8" cy="77.7" r="2.65"/><circle cx="450.5" cy="89.6" r="2.65"/><circle cx="408.3" cy="110.5" r="2.65"/><circle cx="437.9" cy="115.6" r="2.65"/><circle cx="463.4" cy="72.9" r="2.65"/><circle cx="432.9" cy="77.4" r="2.65"/><circle cx="474.6" cy="77.9" r="2.65"/><circle cx="437.1" cy="109.6" r="2.65"/><circle cx="459.1" cy="57.8" r="2.65"/><circle cx="469.6" cy="77.2" r="2.65"/><circle cx="394.0" cy="133.6" r="2.65"/><circle cx="467.3" cy="116.5" r="2.65"/><circle cx="444.3" cy="93.8" r="2.65"/><circle cx="423.6" cy="108.7" r="2.65"/><circle cx="431.4" cy="132.9" r="2.65"/><circle cx="467.8" cy="96.1" r="2.65"/><circle cx="460.7" cy="87.0" r="2.65"/><circle cx="379.9" cy="136.7" r="2.65"/><circle cx="478.7" cy="92.7" r="2.65"/><circle cx="450.8" cy="112.8" r="2.65"/><circle cx="436.9" cy="128.6" r="2.65"/><circle cx="416.1" cy="114.1" r="2.65"/><circle cx="389.3" cy="142.3" r="2.65"/><circle cx="393.9" cy="131.0" r="2.65"/><circle cx="481.8" cy="88.3" r="2.65"/><circle cx="449.6" cy="136.0" r="2.65"/><circle cx="415.1" cy="136.8" r="2.65"/><circle cx="388.1" cy="131.6" r="2.65"/><circle cx="419.6" cy="101.6" r="2.65"/><circle cx="376.2" cy="137.0" r="2.65"/><circle cx="453.4" cy="118.9" r="2.65"/><circle cx="423.3" cy="87.5" r="2.65"/><circle cx="471.7" cy="108.4" r="2.65"/><circle cx="385.8" cy="134.8" r="2.65"/><circle cx="452.3" cy="116.1" r="2.65"/><circle cx="429.5" cy="43.4" r="2.65"/><circle cx="417.7" cy="49.3" r="2.65"/><circle cx="422.0" cy="48.4" r="2.65"/><circle cx="434.6" cy="51.6" r="2.65"/><circle cx="417.7" cy="55.3" r="2.65"/><circle cx="425.2" cy="56.5" r="2.65"/><circle cx="423.3" cy="59.6" r="2.65"/><circle cx="430.8" cy="61.5" r="2.65"/><circle cx="423.3" cy="64.7" r="2.65"/><circle cx="436.4" cy="65.8" r="2.65"/><circle cx="431.8" cy="68.4" r="2.65"/><circle cx="412.7" cy="72.2" r="2.65"/><circle cx="422.4" cy="70.9" r="2.65"/><circle cx="428.0" cy="70.9" r="2.65"/><circle cx="497.4" cy="35.7" r="2.65"/><circle cx="503.6" cy="55.9" r="2.65"/><circle cx="490.9" cy="48.4" r="2.65"/><circle cx="483.9" cy="54.0" r="2.65"/><circle cx="480.2" cy="60.2" r="2.65"/><circle cx="480.6" cy="39.6" r="2.65"/><circle cx="475.5" cy="41.5" r="2.65"/><circle cx="468.8" cy="40.0" r="2.65"/><circle cx="463.3" cy="40.5" r="2.65"/><circle cx="469.3" cy="43.7" r="2.65"/><circle cx="447.2" cy="40.0" r="2.65"/><circle cx="452.5" cy="41.5" r="2.65"/><circle cx="445.0" cy="43.7" r="2.65"/><circle cx="452.5" cy="47.1" r="2.65"/><circle cx="460.0" cy="47.8" r="2.65"/><circle cx="430.0" cy="43.4" r="2.65"/><circle cx="434.7" cy="51.6" r="2.65"/><circle cx="442.2" cy="52.7" r="2.65"/><circle cx="443.7" cy="48.4" r="2.65"/><circle cx="471.6" cy="56.5" r="2.65"/><circle cx="464.6" cy="57.8" r="2.65"/><circle cx="455.3" cy="58.3" r="2.65"/><circle cx="474.6" cy="64.3" r="2.65"/><circle cx="480.6" cy="67.1" r="2.65"/><circle cx="483.4" cy="71.8" r="2.65"/><circle cx="475.9" cy="68.1" r="2.65"/><circle cx="514.0" cy="78.8" r="2.65"/><circle cx="507.8" cy="83.5" r="2.65"/><circle cx="505.0" cy="86.9" r="2.65"/><circle cx="498.0" cy="84.6" r="2.65"/><circle cx="492.4" cy="78.4" r="2.65"/><circle cx="497.1" cy="94.3" r="2.65"/><circle cx="501.4" cy="100.9" r="2.65"/><circle cx="490.2" cy="99.0" r="2.65"/><circle cx="487.2" cy="106.5" r="2.65"/><circle cx="482.1" cy="101.8" r="2.65"/><circle cx="474.3" cy="115.5" r="2.65"/><circle cx="486.8" cy="92.5" r="2.65"/><circle cx="404.7" cy="83.1" r="2.65"/><circle cx="399.6" cy="86.5" r="2.65"/><circle cx="406.2" cy="89.7" r="2.65"/><circle cx="400.6" cy="93.4" r="2.65"/><circle cx="412.7" cy="72.8" r="2.65"/><circle cx="410.9" cy="98.1" r="2.65"/><circle cx="416.5" cy="84.0" r="2.65"/><circle cx="414.6" cy="101.8" r="2.65"/><circle cx="406.2" cy="109.3" r="2.65"/><circle cx="399.6" cy="114.0" r="2.65"/><circle cx="389.3" cy="116.8" r="2.65"/><circle cx="395.0" cy="116.0" r="2.65"/><circle cx="352.7" cy="135.3" r="2.65"/><circle cx="364.9" cy="127.4" r="2.65"/><circle cx="362.1" cy="134.7" r="2.65"/><circle cx="362.5" cy="138.1" r="2.65"/><circle cx="362.5" cy="143.7" r="2.65"/><circle cx="367.7" cy="139.0" r="2.65"/><circle cx="378.0" cy="123.1" r="2.65"/><circle cx="376.5" cy="128.4" r="2.65"/><circle cx="389.6" cy="117.1" r="2.65"/><circle cx="373.7" cy="138.1" r="2.65"/><circle cx="374.6" cy="145.6" r="2.65"/><circle cx="374.6" cy="149.3" r="2.65"/><circle cx="385.9" cy="145.6" r="2.65"/><circle cx="389.6" cy="149.3" r="2.65"/><circle cx="393.4" cy="149.3" r="2.65"/><circle cx="406.5" cy="148.4" r="2.65"/><circle cx="412.1" cy="143.7" r="2.65"/><circle cx="424.3" cy="149.0" r="2.65"/><circle cx="428.0" cy="149.3" r="2.65"/><circle cx="436.4" cy="147.5" r="2.65"/><circle cx="474.0" cy="116.0" r="2.65"/><circle cx="470.3" cy="131.5" r="2.65"/><circle cx="467.5" cy="127.8" r="2.65"/><circle cx="466.5" cy="139.0" r="2.65"/><circle cx="460.0" cy="141.8" r="2.65"/><circle cx="454.3" cy="143.7" r="2.65"/><circle cx="447.8" cy="143.3" r="2.65"/><circle cx="436.6" cy="148.4" r="2.65"/><circle cx="440.3" cy="142.2" r="2.65"/><circle cx="430.0" cy="149.7" r="2.65"/></g>
<text transform="translate(300.8,100.3) rotate(-90) scale(0.915,1)" text-anchor="middle" style="font-size:14.7px">NRI</text>
<text x="437.7" y="222.1" text-anchor="middle" class="ax">Measured yield (t ha<tspan dy="-5" font-size="8">-1</tspan><tspan dy="5">)</tspan></text>
<text x="488.4" y="144.9" class="tk">R<tspan dy="-3.6" font-size="7">2</tspan><tspan dy="3.6">=0.31</tspan></text>
<text x="488.4" y="157.4" class="tk">n=1062</text>
<text x="421.4" y="258.5" text-anchor="middle" style="font-size:14.2px">(<tspan font-weight="bold">b</tspan>)</text>
</svg>
</body></html>
